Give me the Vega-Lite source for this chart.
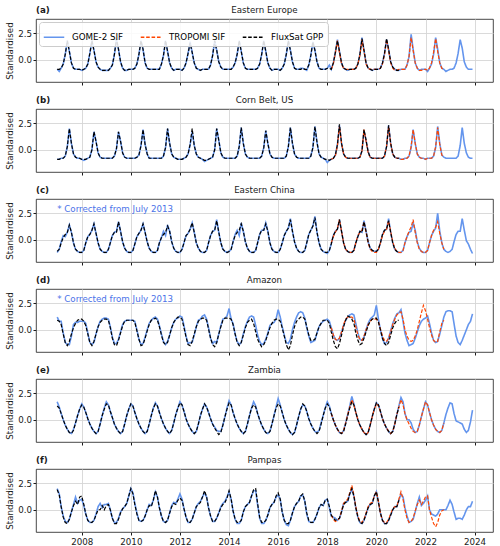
{
  "$schema": "https://vega.github.io/schema/vega-lite/v6.json",
  "padding": {"left": 5, "top": 5, "right": 5, "bottom": 2},
  "spacing": 9,
  "config": {
    "font": "DejaVu Sans",
    "view": {"stroke": "#1a1a1a", "strokeWidth": 0.8},
    "axis": {"domain": false, "gridColor": "#d6d6d6", "gridWidth": 0.9, "tickColor": "#1a1a1a", "tickSize": 3, "labelFontSize": 8.7, "titleFontSize": 8.7, "titleFontWeight": "normal", "labelColor": "#1a1a1a", "titleColor": "#1a1a1a", "labelPadding": 1.5, "titlePadding": 3, "labelFont": "DejaVu Sans", "titleFont": "DejaVu Sans"},
    "text": {"font": "DejaVu Sans", "fontSize": 8.7, "color": "#1a1a1a"}
  },
  "resolve": {"scale": {"color": "independent", "strokeDash": "independent"}},
  "datasets": {
    "A": [
      {"t":"2007-01","g":-0.9,"f":-0.9},{"t":"2007-02","g":-1.1,"f":-0.9},{"t":"2007-03","g":-0.8,"f":-0.8},{"t":"2007-04","g":-0.4,"f":-0.4},{"t":"2007-05","g":0.5,"f":0.5},{"t":"2007-06","g":1.8,"f":1.8},{"t":"2007-07","g":0.8,"f":0.8},{"t":"2007-08","g":-0.3,"f":-0.3},{"t":"2007-09","g":-0.8,"f":-0.8},{"t":"2007-10","g":-0.9,"f":-0.9},{"t":"2007-11","g":-0.9,"f":-0.9},{"t":"2007-12","g":-0.9,"f":-0.9},
      {"t":"2008-01","g":-1.0,"f":-1.0},{"t":"2008-02","g":-0.9,"f":-0.9},{"t":"2008-03","g":-0.8,"f":-0.8},{"t":"2008-04","g":-0.4,"f":-0.4},{"t":"2008-05","g":0.6,"f":0.6},{"t":"2008-06","g":1.8,"f":1.8},{"t":"2008-07","g":0.9,"f":0.9},{"t":"2008-08","g":-0.2,"f":-0.2},{"t":"2008-09","g":-0.7,"f":-0.7},{"t":"2008-10","g":-0.9,"f":-0.9},{"t":"2008-11","g":-1.0,"f":-1.0},{"t":"2008-12","g":-1.0,"f":-1.0},
      {"t":"2009-01","g":-1.0,"f":-1.0},{"t":"2009-02","g":-1.0,"f":-1.0},{"t":"2009-03","g":-0.8,"f":-0.8},{"t":"2009-04","g":-0.5,"f":-0.5},{"t":"2009-05","g":0.5,"f":0.5},{"t":"2009-06","g":1.9,"f":2.0},{"t":"2009-07","g":1.0,"f":1.0},{"t":"2009-08","g":-0.2,"f":-0.2},{"t":"2009-09","g":-0.8,"f":-0.8},{"t":"2009-10","g":-1.0,"f":-1.0},{"t":"2009-11","g":-1.0,"f":-1.0},{"t":"2009-12","g":-0.9,"f":-0.9},
      {"t":"2010-01","g":-0.9,"f":-0.9},{"t":"2010-02","g":-0.9,"f":-0.9},{"t":"2010-03","g":-0.8,"f":-0.8},{"t":"2010-04","g":-0.4,"f":-0.4},{"t":"2010-05","g":0.5,"f":0.5},{"t":"2010-06","g":1.8,"f":1.8},{"t":"2010-07","g":1.0,"f":1.0},{"t":"2010-08","g":-0.3,"f":-0.3},{"t":"2010-09","g":-0.8,"f":-0.8},{"t":"2010-10","g":-0.9,"f":-0.9},{"t":"2010-11","g":-0.9,"f":-0.9},{"t":"2010-12","g":-0.9,"f":-0.9},
      {"t":"2011-01","g":-0.9,"f":-0.9},{"t":"2011-02","g":-0.9,"f":-0.9},{"t":"2011-03","g":-0.9,"f":-0.9},{"t":"2011-04","g":-0.4,"f":-0.4},{"t":"2011-05","g":0.4,"f":0.4},{"t":"2011-06","g":1.8,"f":1.8},{"t":"2011-07","g":0.8,"f":0.8},{"t":"2011-08","g":-0.3,"f":-0.3},{"t":"2011-09","g":-0.8,"f":-0.8},{"t":"2011-10","g":-1.0,"f":-1.0},{"t":"2011-11","g":-0.9,"f":-0.9},{"t":"2011-12","g":-0.9,"f":-0.9},
      {"t":"2012-01","g":-0.9,"f":-0.9},{"t":"2012-02","g":-1.0,"f":-1.0},{"t":"2012-03","g":-0.8,"f":-0.8},{"t":"2012-04","g":-0.3,"f":-0.3},{"t":"2012-05","g":0.6,"f":0.6},{"t":"2012-06","g":1.7,"f":1.6},{"t":"2012-07","g":0.7,"f":0.7},{"t":"2012-08","g":-0.3,"f":-0.3},{"t":"2012-09","g":-0.8,"f":-0.8},{"t":"2012-10","g":-0.9,"f":-0.9},{"t":"2012-11","g":-1.0,"f":-1.0},{"t":"2012-12","g":-0.9,"f":-0.9},
      {"t":"2013-01","g":-0.9,"f":-0.9},{"t":"2013-02","g":-0.9,"f":-0.9},{"t":"2013-03","g":-0.9,"f":-0.9},{"t":"2013-04","g":-0.5,"f":-0.5},{"t":"2013-05","g":0.4,"f":0.4},{"t":"2013-06","g":1.8,"f":1.8},{"t":"2013-07","g":0.9,"f":0.9},{"t":"2013-08","g":-0.2,"f":-0.2},{"t":"2013-09","g":-0.7,"f":-0.7},{"t":"2013-10","g":-0.9,"f":-0.9},{"t":"2013-11","g":-0.9,"f":-0.9},{"t":"2013-12","g":-0.9,"f":-0.9},
      {"t":"2014-01","g":-0.9,"f":-0.9},{"t":"2014-02","g":-0.9,"f":-0.9},{"t":"2014-03","g":-0.7,"f":-0.7},{"t":"2014-04","g":-0.3,"f":-0.3},{"t":"2014-05","g":0.5,"f":0.5},{"t":"2014-06","g":1.8,"f":1.8},{"t":"2014-07","g":0.8,"f":0.8},{"t":"2014-08","g":-0.3,"f":-0.3},{"t":"2014-09","g":-0.8,"f":-0.8},{"t":"2014-10","g":-0.9,"f":-0.9},{"t":"2014-11","g":-0.9,"f":-0.9},{"t":"2014-12","g":-0.9,"f":-0.9},
      {"t":"2015-01","g":-0.9,"f":-0.9},{"t":"2015-02","g":-0.9,"f":-0.9},{"t":"2015-03","g":-0.8,"f":-0.8},{"t":"2015-04","g":-0.4,"f":-0.4},{"t":"2015-05","g":0.5,"f":0.5},{"t":"2015-06","g":1.8,"f":1.8},{"t":"2015-07","g":0.8,"f":0.8},{"t":"2015-08","g":-0.3,"f":-0.3},{"t":"2015-09","g":-0.8,"f":-0.8},{"t":"2015-10","g":-1.0,"f":-1.0},{"t":"2015-11","g":-0.9,"f":-0.9},{"t":"2015-12","g":-0.9,"f":-0.9},
      {"t":"2016-01","g":-0.9,"f":-0.9},{"t":"2016-02","g":-1.0,"f":-1.0},{"t":"2016-03","g":-0.8,"f":-0.8},{"t":"2016-04","g":-0.4,"f":-0.4},{"t":"2016-05","g":0.5,"f":0.5},{"t":"2016-06","g":1.8,"f":1.8},{"t":"2016-07","g":0.9,"f":0.9},{"t":"2016-08","g":-0.2,"f":-0.2},{"t":"2016-09","g":-0.8,"f":-0.8},{"t":"2016-10","g":-0.9,"f":-0.9},{"t":"2016-11","g":-0.9,"f":-0.9},{"t":"2016-12","g":-0.8,"f":-0.9},
      {"t":"2017-01","g":-0.8,"f":-0.8},{"t":"2017-02","g":-0.9,"f":-0.9},{"t":"2017-03","g":-1.0,"f":-0.9},{"t":"2017-04","g":-0.5,"f":-0.5},{"t":"2017-05","g":0.4,"f":0.4},{"t":"2017-06","g":1.7,"f":1.7},{"t":"2017-07","g":0.9,"f":0.9},{"t":"2017-08","g":-0.2,"f":-0.2},{"t":"2017-09","g":-0.8,"f":-0.8},{"t":"2017-10","g":-0.9,"f":-0.9},{"t":"2017-11","g":-0.9,"f":-0.9},{"t":"2017-12","g":-0.9,"f":-0.9},
      {"t":"2018-01","g":-0.8,"f":-0.8},{"t":"2018-02","g":-0.5,"f":-0.8},{"t":"2018-03","g":-0.9,"f":-0.9,"o":-0.9},{"t":"2018-04","g":-0.3,"f":-0.3,"o":-0.4},{"t":"2018-05","g":0.7,"f":0.7,"o":0.6},{"t":"2018-06","g":1.9,"f":1.8,"o":1.8},{"t":"2018-07","g":0.8,"f":0.8,"o":0.7},{"t":"2018-08","g":-0.3,"f":-0.3,"o":-0.4},{"t":"2018-09","g":-0.8,"f":-0.8,"o":-0.8},{"t":"2018-10","g":-0.9,"f":-0.9,"o":-0.9},{"t":"2018-11","g":-1.0,"f":-1.0,"o":-0.9},{"t":"2018-12","g":-0.9,"f":-0.9,"o":-0.9},
      {"t":"2019-01","g":-0.9,"f":-0.9,"o":-0.9},{"t":"2019-02","g":-0.9,"f":-0.9,"o":-0.9},{"t":"2019-03","g":-0.8,"f":-0.8,"o":-0.8},{"t":"2019-04","g":-0.4,"f":-0.4,"o":-0.4},{"t":"2019-05","g":0.5,"f":0.5,"o":0.4},{"t":"2019-06","g":2.1,"f":2.0,"o":1.9},{"t":"2019-07","g":0.9,"f":0.9,"o":0.8},{"t":"2019-08","g":-0.3,"f":-0.3,"o":-0.4},{"t":"2019-09","g":-0.8,"f":-0.8,"o":-0.8},{"t":"2019-10","g":-0.9,"f":-0.9,"o":-0.9},{"t":"2019-11","g":-1.0,"f":-1.0,"o":-0.9},{"t":"2019-12","g":-0.9,"f":-0.9,"o":-0.9},
      {"t":"2020-01","g":-0.9,"f":-0.9,"o":-0.9},{"t":"2020-02","g":-0.9,"f":-0.9,"o":-0.9},{"t":"2020-03","g":-0.8,"f":-0.8,"o":-0.8},{"t":"2020-04","g":-0.3,"f":-0.3,"o":-0.4},{"t":"2020-05","g":0.6,"f":0.6,"o":0.5},{"t":"2020-06","g":1.9,"f":2.0,"o":1.9},{"t":"2020-07","g":1.0,"f":1.0,"o":0.9},{"t":"2020-08","g":-0.2,"f":-0.2,"o":-0.3},{"t":"2020-09","g":-0.7,"f":-0.7,"o":-0.8},{"t":"2020-10","g":-0.9,"f":-0.9,"o":-1.0},{"t":"2020-11","g":-1.0,"f":-1.0,"o":-1.0},{"t":"2020-12","g":-1.0,"f":-1.0,"o":-0.9},
      {"t":"2021-01","g":-0.9,"o":-0.9},{"t":"2021-02","g":-0.9,"o":-0.9},{"t":"2021-03","g":-0.9,"o":-0.9},{"t":"2021-04","g":-0.5,"o":-0.5},{"t":"2021-05","g":0.3,"o":0.3},{"t":"2021-06","g":2.4,"o":2.1},{"t":"2021-07","g":1.0,"o":0.9},{"t":"2021-08","g":-0.3,"o":-0.3},{"t":"2021-09","g":-0.8,"o":-0.8},{"t":"2021-10","g":-1.0,"o":-1.0},{"t":"2021-11","g":-0.9,"o":-1.0},{"t":"2021-12","g":-0.9,"o":-0.9},
      {"t":"2022-01","g":-0.9,"o":-0.9},{"t":"2022-02","g":-1.1,"o":-1.0},{"t":"2022-03","g":-0.8,"o":-0.8},{"t":"2022-04","g":-0.4,"o":-0.3},{"t":"2022-05","g":0.5,"o":0.7},{"t":"2022-06","g":2.1,"o":2.0},{"t":"2022-07","g":1.0,"o":0.8},{"t":"2022-08","g":-0.3,"o":-0.3},{"t":"2022-09","g":-0.8,"o":-0.8},{"t":"2022-10","g":-0.9,"o":-0.9},{"t":"2022-11","g":-1.1},{"t":"2022-12","g":-1.0},
      {"t":"2023-01","g":-0.9},{"t":"2023-02","g":-0.9},{"t":"2023-03","g":-0.8},{"t":"2023-04","g":-0.3},{"t":"2023-05","g":0.6},{"t":"2023-06","g":1.9},{"t":"2023-07","g":1.1},{"t":"2023-08","g":-0.2},{"t":"2023-09","g":-0.7},{"t":"2023-10","g":-0.9},{"t":"2023-11","g":-0.9},{"t":"2023-12","g":-0.9}
    ],
    "B": [
      {"t":"2007-01","g":-0.9,"f":-0.9},{"t":"2007-02","g":-0.9,"f":-0.9},{"t":"2007-03","g":-0.8,"f":-0.8},{"t":"2007-04","g":-0.8,"f":-0.8},{"t":"2007-05","g":-0.6,"f":-0.6},{"t":"2007-06","g":0.3,"f":0.3},{"t":"2007-07","g":2.0,"f":2.0},{"t":"2007-08","g":0.6,"f":0.6},{"t":"2007-09","g":-0.4,"f":-0.4},{"t":"2007-10","g":-0.7,"f":-0.7},{"t":"2007-11","g":-0.8,"f":-0.8},{"t":"2007-12","g":-0.8,"f":-0.8},
      {"t":"2008-01","g":-0.9,"f":-0.9},{"t":"2008-02","g":-1.0,"f":-0.9},{"t":"2008-03","g":-0.9,"f":-0.9},{"t":"2008-04","g":-0.8,"f":-0.8},{"t":"2008-05","g":-0.7,"f":-0.7},{"t":"2008-06","g":0.0,"f":0.0},{"t":"2008-07","g":1.7,"f":1.7},{"t":"2008-08","g":0.8,"f":0.8},{"t":"2008-09","g":-0.3,"f":-0.3},{"t":"2008-10","g":-0.7,"f":-0.7},{"t":"2008-11","g":-0.8,"f":-0.8},{"t":"2008-12","g":-0.8,"f":-0.8},
      {"t":"2009-01","g":-0.8,"f":-0.8},{"t":"2009-02","g":-0.8,"f":-0.8},{"t":"2009-03","g":-0.8,"f":-0.8},{"t":"2009-04","g":-0.8,"f":-0.8},{"t":"2009-05","g":-0.6,"f":-0.6},{"t":"2009-06","g":0.1,"f":0.1},{"t":"2009-07","g":1.7,"f":1.7},{"t":"2009-08","g":0.8,"f":0.8},{"t":"2009-09","g":-0.3,"f":-0.3},{"t":"2009-10","g":-0.7,"f":-0.7},{"t":"2009-11","g":-0.8,"f":-0.8},{"t":"2009-12","g":-0.8,"f":-0.8},
      {"t":"2010-01","g":-0.8,"f":-0.8},{"t":"2010-02","g":-0.8,"f":-0.8},{"t":"2010-03","g":-0.8,"f":-0.8},{"t":"2010-04","g":-0.7,"f":-0.7},{"t":"2010-05","g":-0.5,"f":-0.5},{"t":"2010-06","g":0.4,"f":0.4},{"t":"2010-07","g":1.9,"f":1.9},{"t":"2010-08","g":0.5,"f":0.5},{"t":"2010-09","g":-0.4,"f":-0.4},{"t":"2010-10","g":-0.8,"f":-0.8},{"t":"2010-11","g":-0.8,"f":-0.8},{"t":"2010-12","g":-0.8,"f":-0.8},
      {"t":"2011-01","g":-0.8,"f":-0.8},{"t":"2011-02","g":-0.8,"f":-0.8},{"t":"2011-03","g":-0.8,"f":-0.8},{"t":"2011-04","g":-0.8,"f":-0.8},{"t":"2011-05","g":-0.6,"f":-0.6},{"t":"2011-06","g":0.2,"f":0.2},{"t":"2011-07","g":2.0,"f":2.0},{"t":"2011-08","g":0.6,"f":0.6},{"t":"2011-09","g":-0.4,"f":-0.4},{"t":"2011-10","g":-0.7,"f":-0.7},{"t":"2011-11","g":-0.8,"f":-0.8},{"t":"2011-12","g":-0.9,"f":-0.9},
      {"t":"2012-01","g":-0.9,"f":-0.9},{"t":"2012-02","g":-0.9,"f":-0.9},{"t":"2012-03","g":-0.8,"f":-0.8},{"t":"2012-04","g":-0.7,"f":-0.7},{"t":"2012-05","g":-0.4,"f":-0.4},{"t":"2012-06","g":0.5,"f":0.5},{"t":"2012-07","g":1.7,"f":2.0},{"t":"2012-08","g":0.4,"f":0.4},{"t":"2012-09","g":-0.4,"f":-0.4},{"t":"2012-10","g":-0.7,"f":-0.7},{"t":"2012-11","g":-0.8,"f":-0.8},{"t":"2012-12","g":-0.9,"f":-0.9},
      {"t":"2013-01","g":-1.1,"f":-1.0},{"t":"2013-02","g":-1.0,"f":-1.0},{"t":"2013-03","g":-0.9,"f":-0.9},{"t":"2013-04","g":-0.8,"f":-0.8},{"t":"2013-05","g":-0.7,"f":-0.7},{"t":"2013-06","g":0.0,"f":0.0},{"t":"2013-07","g":2.0,"f":2.0},{"t":"2013-08","g":0.9,"f":0.9},{"t":"2013-09","g":-0.3,"f":-0.3},{"t":"2013-10","g":-0.7,"f":-0.7},{"t":"2013-11","g":-0.8,"f":-0.8},{"t":"2013-12","g":-0.8,"f":-0.8},
      {"t":"2014-01","g":-0.8,"f":-0.8},{"t":"2014-02","g":-0.8,"f":-0.8},{"t":"2014-03","g":-0.8,"f":-0.8},{"t":"2014-04","g":-0.8,"f":-0.8},{"t":"2014-05","g":-0.6,"f":-0.6},{"t":"2014-06","g":0.3,"f":0.3},{"t":"2014-07","g":2.1,"f":2.1},{"t":"2014-08","g":0.6,"f":0.6},{"t":"2014-09","g":-0.4,"f":-0.4},{"t":"2014-10","g":-0.7,"f":-0.7},{"t":"2014-11","g":-0.8,"f":-0.8},{"t":"2014-12","g":-0.8,"f":-0.8},
      {"t":"2015-01","g":-0.8,"f":-0.8},{"t":"2015-02","g":-0.8,"f":-0.8},{"t":"2015-03","g":-0.8,"f":-0.8},{"t":"2015-04","g":-0.8,"f":-0.8},{"t":"2015-05","g":-0.6,"f":-0.6},{"t":"2015-06","g":0.2,"f":0.2},{"t":"2015-07","g":1.8,"f":1.8},{"t":"2015-08","g":0.6,"f":0.6},{"t":"2015-09","g":-0.4,"f":-0.4},{"t":"2015-10","g":-0.7,"f":-0.7},{"t":"2015-11","g":-0.8,"f":-0.8},{"t":"2015-12","g":-0.8,"f":-0.8},
      {"t":"2016-01","g":-0.8,"f":-0.8},{"t":"2016-02","g":-0.8,"f":-0.8},{"t":"2016-03","g":-0.8,"f":-0.8},{"t":"2016-04","g":-0.8,"f":-0.8},{"t":"2016-05","g":-0.6,"f":-0.6},{"t":"2016-06","g":0.3,"f":0.3},{"t":"2016-07","g":2.1,"f":2.1},{"t":"2016-08","g":0.6,"f":0.6},{"t":"2016-09","g":-0.4,"f":-0.4},{"t":"2016-10","g":-0.7,"f":-0.7},{"t":"2016-11","g":-0.8,"f":-0.8},{"t":"2016-12","g":-0.8,"f":-0.8},
      {"t":"2017-01","g":-0.8,"f":-0.8},{"t":"2017-02","g":-0.8,"f":-0.8},{"t":"2017-03","g":-0.8,"f":-0.8},{"t":"2017-04","g":-0.8,"f":-0.8},{"t":"2017-05","g":-0.6,"f":-0.6},{"t":"2017-06","g":0.2,"f":0.2},{"t":"2017-07","g":2.2,"f":2.2},{"t":"2017-08","g":0.7,"f":0.7},{"t":"2017-09","g":-0.4,"f":-0.4},{"t":"2017-10","g":-0.7,"f":-0.7},{"t":"2017-11","g":-0.8,"f":-0.8},{"t":"2017-12","g":-0.9,"f":-0.9},
      {"t":"2018-01","g":-1.2,"f":-0.9},{"t":"2018-02","g":-1.0,"f":-1.0},{"t":"2018-03","g":-0.9,"f":-0.9,"o":-0.9},{"t":"2018-04","g":-0.8,"f":-0.8,"o":-0.8},{"t":"2018-05","g":-0.5,"f":-0.5,"o":-0.6},{"t":"2018-06","g":0.5,"f":0.5,"o":0.4},{"t":"2018-07","g":2.3,"f":2.4,"o":2.2},{"t":"2018-08","g":0.6,"f":0.6,"o":0.6},{"t":"2018-09","g":-0.4,"f":-0.4,"o":-0.4},{"t":"2018-10","g":-0.7,"f":-0.7,"o":-0.7},{"t":"2018-11","g":-0.8,"f":-0.8,"o":-0.8},{"t":"2018-12","g":-0.8,"f":-0.8,"o":-0.8},
      {"t":"2019-01","g":-0.8,"f":-0.8,"o":-0.8},{"t":"2019-02","g":-0.8,"f":-0.8,"o":-0.8},{"t":"2019-03","g":-0.8,"f":-0.8,"o":-0.8},{"t":"2019-04","g":-0.8,"f":-0.8,"o":-0.8},{"t":"2019-05","g":-0.7,"f":-0.7,"o":-0.7},{"t":"2019-06","g":-0.1,"f":-0.1,"o":-0.1},{"t":"2019-07","g":1.8,"f":1.9,"o":1.9},{"t":"2019-08","g":0.9,"f":0.9,"o":0.8},{"t":"2019-09","g":-0.2,"f":-0.2,"o":-0.3},{"t":"2019-10","g":-0.7,"f":-0.7,"o":-0.7},{"t":"2019-11","g":-0.8,"f":-0.8,"o":-0.8},{"t":"2019-12","g":-0.8,"f":-0.8,"o":-0.8},
      {"t":"2020-01","g":-0.8,"f":-0.8,"o":-0.8},{"t":"2020-02","g":-0.8,"f":-0.8,"o":-0.8},{"t":"2020-03","g":-0.8,"f":-0.8,"o":-0.8},{"t":"2020-04","g":-0.8,"f":-0.8,"o":-0.8},{"t":"2020-05","g":-0.6,"f":-0.6,"o":-0.6},{"t":"2020-06","g":0.3,"f":0.3,"o":0.3},{"t":"2020-07","g":2.3,"f":2.3,"o":2.2},{"t":"2020-08","g":0.6,"f":0.6,"o":0.6},{"t":"2020-09","g":-0.4,"f":-0.4,"o":-0.4},{"t":"2020-10","g":-0.7,"f":-0.7,"o":-0.7},{"t":"2020-11","g":-0.8,"f":-0.8,"o":-0.8},{"t":"2020-12","g":-0.8,"f":-0.8,"o":-0.8},
      {"t":"2021-01","g":-0.9,"o":-0.9},{"t":"2021-02","g":-0.9,"o":-0.9},{"t":"2021-03","g":-0.8,"o":-0.8},{"t":"2021-04","g":-0.8,"o":-0.8},{"t":"2021-05","g":-0.6,"o":-0.6},{"t":"2021-06","g":0.2,"o":0.3},{"t":"2021-07","g":1.9,"o":1.9},{"t":"2021-08","g":0.6,"o":0.6},{"t":"2021-09","g":-0.4,"o":-0.4},{"t":"2021-10","g":-0.7,"o":-0.7},{"t":"2021-11","g":-0.8,"o":-0.8},{"t":"2021-12","g":-0.8,"o":-0.8},
      {"t":"2022-01","g":-0.9,"o":-0.9},{"t":"2022-02","g":-0.8,"o":-0.8},{"t":"2022-03","g":-0.8,"o":-0.8},{"t":"2022-04","g":-0.8,"o":-0.8},{"t":"2022-05","g":-0.6,"o":-0.6},{"t":"2022-06","g":0.2,"o":0.3},{"t":"2022-07","g":2.2,"o":2.1},{"t":"2022-08","g":0.6,"o":0.5},{"t":"2022-09","g":-0.5,"o":-0.5},{"t":"2022-10","g":-0.7,"o":-0.7},{"t":"2022-11","g":-0.8},{"t":"2022-12","g":-0.8},
      {"t":"2023-01","g":-0.8},{"t":"2023-02","g":-0.8},{"t":"2023-03","g":-0.8},{"t":"2023-04","g":-0.8},{"t":"2023-05","g":-0.6},{"t":"2023-06","g":0.4},{"t":"2023-07","g":2.1},{"t":"2023-08","g":0.6},{"t":"2023-09","g":-0.3},{"t":"2023-10","g":-0.7},{"t":"2023-11","g":-0.8},{"t":"2023-12","g":-0.8}
    ],
    "C": [
      {"t":"2007-01","g":-1.2,"f":-1.1},{"t":"2007-02","g":-0.9,"f":-0.9},{"t":"2007-03","g":-0.2,"f":-0.3},{"t":"2007-04","g":0.4,"f":0.2},{"t":"2007-05","g":0.3,"f":0.5},{"t":"2007-06","g":0.7,"f":0.7},{"t":"2007-07","g":1.4,"f":1.4},{"t":"2007-08","g":0.7,"f":0.7},{"t":"2007-09","g":-0.3,"f":-0.3},{"t":"2007-10","g":-0.9,"f":-0.9},{"t":"2007-11","g":-1.1,"f":-1.1},{"t":"2007-12","g":-1.2,"f":-1.2},
      {"t":"2008-01","g":-1.2,"f":-1.2},{"t":"2008-02","g":-1.0,"f":-1.0},{"t":"2008-03","g":-0.3,"f":-0.3},{"t":"2008-04","g":0.3,"f":0.3},{"t":"2008-05","g":0.5,"f":0.5},{"t":"2008-06","g":0.9,"f":0.9},{"t":"2008-07","g":1.5,"f":1.5},{"t":"2008-08","g":0.6,"f":0.6},{"t":"2008-09","g":-0.3,"f":-0.3},{"t":"2008-10","g":-0.9,"f":-0.9},{"t":"2008-11","g":-1.1,"f":-1.1},{"t":"2008-12","g":-1.2,"f":-1.2},
      {"t":"2009-01","g":-1.2,"f":-1.2},{"t":"2009-02","g":-0.9,"f":-0.9},{"t":"2009-03","g":-0.3,"f":-0.3},{"t":"2009-04","g":0.4,"f":0.4},{"t":"2009-05","g":0.7,"f":0.7},{"t":"2009-06","g":0.8,"f":0.7},{"t":"2009-07","g":1.7,"f":1.7},{"t":"2009-08","g":0.8,"f":0.8},{"t":"2009-09","g":-0.2,"f":-0.2},{"t":"2009-10","g":-0.8,"f":-0.8},{"t":"2009-11","g":-1.1,"f":-1.1},{"t":"2009-12","g":-1.2,"f":-1.2},
      {"t":"2010-01","g":-1.2,"f":-1.2},{"t":"2010-02","g":-1.0,"f":-1.0},{"t":"2010-03","g":-0.4,"f":-0.4},{"t":"2010-04","g":0.3,"f":0.3},{"t":"2010-05","g":0.6,"f":0.6},{"t":"2010-06","g":0.9,"f":0.9},{"t":"2010-07","g":1.5,"f":1.5},{"t":"2010-08","g":0.7,"f":0.7},{"t":"2010-09","g":-0.2,"f":-0.2},{"t":"2010-10","g":-0.8,"f":-0.8},{"t":"2010-11","g":-1.1,"f":-1.1},{"t":"2010-12","g":-1.2,"f":-1.2},
      {"t":"2011-01","g":-1.2,"f":-1.2},{"t":"2011-02","g":-1.0,"f":-1.0},{"t":"2011-03","g":-0.3,"f":-0.3},{"t":"2011-04","g":0.2,"f":0.2},{"t":"2011-05","g":0.8,"f":0.5},{"t":"2011-06","g":0.4,"f":0.7},{"t":"2011-07","g":1.4,"f":1.3},{"t":"2011-08","g":0.8,"f":0.8},{"t":"2011-09","g":-0.2,"f":-0.2},{"t":"2011-10","g":-0.8,"f":-0.8},{"t":"2011-11","g":-1.1,"f":-1.1},{"t":"2011-12","g":-1.2,"f":-1.2},
      {"t":"2012-01","g":-1.2,"f":-1.2},{"t":"2012-02","g":-0.9,"f":-0.9},{"t":"2012-03","g":-0.3,"f":-0.3},{"t":"2012-04","g":0.4,"f":0.4},{"t":"2012-05","g":0.6,"f":0.6},{"t":"2012-06","g":1.0,"f":1.0},{"t":"2012-07","g":1.6,"f":1.6},{"t":"2012-08","g":0.7,"f":0.7},{"t":"2012-09","g":-0.3,"f":-0.3},{"t":"2012-10","g":-0.8,"f":-0.8},{"t":"2012-11","g":-1.1,"f":-1.1},{"t":"2012-12","g":-1.2,"f":-1.2},
      {"t":"2013-01","g":-1.2,"f":-1.2},{"t":"2013-02","g":-1.0,"f":-1.0},{"t":"2013-03","g":-0.3,"f":-0.3},{"t":"2013-04","g":0.4,"f":0.4},{"t":"2013-05","g":0.8,"f":0.8},{"t":"2013-06","g":0.9,"f":0.9},{"t":"2013-07","g":1.9,"f":1.8},{"t":"2013-08","g":0.7,"f":0.7},{"t":"2013-09","g":-0.3,"f":-0.3},{"t":"2013-10","g":-0.9,"f":-0.9},{"t":"2013-11","g":-1.1,"f":-1.1},{"t":"2013-12","g":-1.2,"f":-1.2},
      {"t":"2014-01","g":-1.1,"f":-1.1},{"t":"2014-02","g":-0.9,"f":-0.9},{"t":"2014-03","g":-0.2,"f":-0.2},{"t":"2014-04","g":0.5,"f":0.4},{"t":"2014-05","g":0.9,"f":0.7},{"t":"2014-06","g":0.4,"f":0.9},{"t":"2014-07","g":1.6,"f":1.5},{"t":"2014-08","g":0.8,"f":0.8},{"t":"2014-09","g":-0.2,"f":-0.2},{"t":"2014-10","g":-0.8,"f":-0.8},{"t":"2014-11","g":-1.1,"f":-1.1},{"t":"2014-12","g":-1.2,"f":-1.2},
      {"t":"2015-01","g":-1.2,"f":-1.2},{"t":"2015-02","g":-1.0,"f":-1.0},{"t":"2015-03","g":-0.3,"f":-0.3},{"t":"2015-04","g":0.5,"f":0.5},{"t":"2015-05","g":0.9,"f":0.9},{"t":"2015-06","g":0.9,"f":0.9},{"t":"2015-07","g":1.6,"f":1.5},{"t":"2015-08","g":0.8,"f":0.8},{"t":"2015-09","g":-0.3,"f":-0.3},{"t":"2015-10","g":-0.9,"f":-0.9},{"t":"2015-11","g":-1.1,"f":-1.1},{"t":"2015-12","g":-1.2,"f":-1.2},
      {"t":"2016-01","g":-1.2,"f":-1.2},{"t":"2016-02","g":-0.9,"f":-0.9},{"t":"2016-03","g":-0.3,"f":-0.3},{"t":"2016-04","g":0.4,"f":0.4},{"t":"2016-05","g":0.8,"f":0.8},{"t":"2016-06","g":1.1,"f":1.1},{"t":"2016-07","g":2.0,"f":1.9},{"t":"2016-08","g":0.8,"f":0.8},{"t":"2016-09","g":-0.2,"f":-0.2},{"t":"2016-10","g":-0.8,"f":-0.8},{"t":"2016-11","g":-1.1,"f":-1.1},{"t":"2016-12","g":-1.2,"f":-1.2},
      {"t":"2017-01","g":-1.2,"f":-1.2},{"t":"2017-02","g":-1.0,"f":-1.0},{"t":"2017-03","g":-0.3,"f":-0.3},{"t":"2017-04","g":0.5,"f":0.5},{"t":"2017-05","g":0.9,"f":0.9},{"t":"2017-06","g":1.3,"f":1.3},{"t":"2017-07","g":2.2,"f":2.1},{"t":"2017-08","g":0.7,"f":0.7},{"t":"2017-09","g":-0.3,"f":-0.3},{"t":"2017-10","g":-0.9,"f":-0.9},{"t":"2017-11","g":-1.1,"f":-1.1},{"t":"2017-12","g":-1.2,"f":-1.2},
      {"t":"2018-01","g":-1.3,"f":-1.2},{"t":"2018-02","g":-1.0,"f":-1.0},{"t":"2018-03","g":-0.4,"f":-0.4,"o":-0.3},{"t":"2018-04","g":0.4,"f":0.4,"o":0.3},{"t":"2018-05","g":0.8,"f":0.8,"o":0.7},{"t":"2018-06","g":1.0,"f":1.0,"o":1.1},{"t":"2018-07","g":1.9,"f":1.9,"o":1.9},{"t":"2018-08","g":0.8,"f":0.8,"o":0.8},{"t":"2018-09","g":-0.3,"f":-0.3,"o":-0.3},{"t":"2018-10","g":-0.9,"f":-0.9,"o":-0.9},{"t":"2018-11","g":-1.1,"f":-1.1,"o":-1.1},{"t":"2018-12","g":-1.2,"f":-1.2,"o":-1.2},
      {"t":"2019-01","g":-1.2,"f":-1.2,"o":-1.2},{"t":"2019-02","g":-1.0,"f":-1.0,"o":-1.0},{"t":"2019-03","g":-0.3,"f":-0.3,"o":-0.3},{"t":"2019-04","g":0.3,"f":0.3,"o":0.4},{"t":"2019-05","g":0.8,"f":0.8,"o":0.7},{"t":"2019-06","g":0.7,"f":0.7,"o":0.9},{"t":"2019-07","g":1.8,"f":1.7,"o":1.7},{"t":"2019-08","g":0.8,"f":0.8,"o":0.7},{"t":"2019-09","g":-0.2,"f":-0.2,"o":-0.3},{"t":"2019-10","g":-0.8,"f":-0.8,"o":-0.9},{"t":"2019-11","g":-1.0,"f":-1.0,"o":-1.1},{"t":"2019-12","g":-1.1,"f":-1.1,"o":-1.2},
      {"t":"2020-01","g":-1.1,"f":-1.1,"o":-1.2},{"t":"2020-02","g":-0.9,"f":-0.9,"o":-0.9},{"t":"2020-03","g":-0.3,"f":-0.3,"o":-0.3},{"t":"2020-04","g":0.5,"f":0.5,"o":0.4},{"t":"2020-05","g":0.9,"f":0.9,"o":0.8},{"t":"2020-06","g":1.0,"f":1.0,"o":1.0},{"t":"2020-07","g":2.0,"f":1.8,"o":1.8},{"t":"2020-08","g":0.7,"f":0.7,"o":0.8},{"t":"2020-09","g":-0.3,"f":-0.3,"o":-0.2},{"t":"2020-10","g":-0.9,"f":-0.9,"o":-0.8},{"t":"2020-11","g":-1.1,"f":-1.1,"o":-1.1},{"t":"2020-12","g":-1.2,"f":-1.2,"o":-1.2},
      {"t":"2021-01","g":-1.2,"o":-1.2},{"t":"2021-02","g":-1.0,"o":-1.0},{"t":"2021-03","g":-0.3,"o":-0.3},{"t":"2021-04","g":0.3,"o":0.3},{"t":"2021-05","g":0.7,"o":0.8},{"t":"2021-06","g":0.8,"o":1.2},{"t":"2021-07","g":1.6,"o":1.9},{"t":"2021-08","g":0.9,"o":0.7},{"t":"2021-09","g":-0.2,"o":-0.3},{"t":"2021-10","g":-0.8,"o":-0.9},{"t":"2021-11","g":-1.1,"o":-1.1},{"t":"2021-12","g":-1.2,"o":-1.2},
      {"t":"2022-01","g":-1.2,"o":-1.2},{"t":"2022-02","g":-1.0,"o":-1.0},{"t":"2022-03","g":-0.3,"o":-0.3},{"t":"2022-04","g":0.4,"o":0.4},{"t":"2022-05","g":0.8,"o":0.9},{"t":"2022-06","g":1.1,"o":1.2},{"t":"2022-07","g":2.5,"o":1.7},{"t":"2022-08","g":0.8,"o":0.6},{"t":"2022-09","g":-0.3,"o":-0.3},{"t":"2022-10","g":-0.9,"o":-0.9},{"t":"2022-11","g":-1.1},{"t":"2022-12","g":-1.2},
      {"t":"2023-01","g":-1.1},{"t":"2023-02","g":-0.9},{"t":"2023-03","g":-0.2},{"t":"2023-04","g":0.5},{"t":"2023-05","g":0.8},{"t":"2023-06","g":0.8},{"t":"2023-07","g":2.0},{"t":"2023-08","g":0.9},{"t":"2023-09","g":-0.1},{"t":"2023-10","g":-0.4},{"t":"2023-11","g":-0.9},{"t":"2023-12","g":-1.3}
    ],
    "D": [
      {"t":"2007-01","g":1.2,"f":0.9},{"t":"2007-02","g":0.8,"f":0.8},{"t":"2007-03","g":0.8,"f":0.5},{"t":"2007-04","g":-0.3,"f":-0.4},{"t":"2007-05","g":-1.2,"f":-1.2},{"t":"2007-06","g":-1.4,"f":-1.5},{"t":"2007-07","g":-1.4,"f":-1.1},{"t":"2007-08","g":-0.6,"f":-0.4},{"t":"2007-09","g":0.5,"f":0.2},{"t":"2007-10","g":0.7,"f":0.6},{"t":"2007-11","g":0.7,"f":0.9},{"t":"2007-12","g":0.8,"f":1.0},
      {"t":"2008-01","g":0.8,"f":1.0},{"t":"2008-02","g":0.8,"f":0.8},{"t":"2008-03","g":0.6,"f":0.4},{"t":"2008-04","g":-0.3,"f":-0.4},{"t":"2008-05","g":-1.2,"f":-1.2},{"t":"2008-06","g":-1.4,"f":-1.5},{"t":"2008-07","g":-1.2,"f":-1.1},{"t":"2008-08","g":-0.4,"f":-0.4},{"t":"2008-09","g":0.3,"f":0.3},{"t":"2008-10","g":0.8,"f":0.7},{"t":"2008-11","g":1.0,"f":0.9},{"t":"2008-12","g":1.1,"f":1.0},
      {"t":"2009-01","g":1.1,"f":1.0},{"t":"2009-02","g":1.0,"f":0.9},{"t":"2009-03","g":0.3,"f":0.2},{"t":"2009-04","g":-0.7,"f":-0.8},{"t":"2009-05","g":-1.3,"f":-1.4},{"t":"2009-06","g":-1.3,"f":-1.5},{"t":"2009-07","g":-0.9,"f":-1.0},{"t":"2009-08","g":-0.2,"f":-0.3},{"t":"2009-09","g":0.5,"f":0.4},{"t":"2009-10","g":0.8,"f":0.8},{"t":"2009-11","g":0.9,"f":0.9},{"t":"2009-12","g":0.9,"f":0.9},
      {"t":"2010-01","g":0.9,"f":0.9},{"t":"2010-02","g":0.9,"f":0.9},{"t":"2010-03","g":0.8,"f":0.7},{"t":"2010-04","g":0.0,"f":-0.1},{"t":"2010-05","g":-0.9,"f":-0.9},{"t":"2010-06","g":-1.4,"f":-1.5},{"t":"2010-07","g":-1.3,"f":-1.4},{"t":"2010-08","g":-0.7,"f":-0.8},{"t":"2010-09","g":0.0,"f":-0.1},{"t":"2010-10","g":0.6,"f":0.5},{"t":"2010-11","g":0.9,"f":0.9},{"t":"2010-12","g":1.1,"f":1.0},
      {"t":"2011-01","g":1.2,"f":1.1},{"t":"2011-02","g":1.0,"f":0.9},{"t":"2011-03","g":0.4,"f":0.3},{"t":"2011-04","g":-0.4,"f":-0.5},{"t":"2011-05","g":-1.1,"f":-1.2},{"t":"2011-06","g":-1.4,"f":-1.4},{"t":"2011-07","g":-1.1,"f":-1.2},{"t":"2011-08","g":-0.5,"f":-0.5},{"t":"2011-09","g":0.2,"f":0.2},{"t":"2011-10","g":0.7,"f":0.7},{"t":"2011-11","g":1.0,"f":1.0},{"t":"2011-12","g":1.1,"f":1.2},
      {"t":"2012-01","g":1.3,"f":1.2},{"t":"2012-02","g":1.2,"f":1.0},{"t":"2012-03","g":0.4,"f":0.2},{"t":"2012-04","g":-0.6,"f":-0.7},{"t":"2012-05","g":-1.3,"f":-1.4},{"t":"2012-06","g":-1.2,"f":-1.5},{"t":"2012-07","g":-1.2,"f":-1.1},{"t":"2012-08","g":-0.5,"f":-0.4},{"t":"2012-09","g":0.3,"f":0.3},{"t":"2012-10","g":0.9,"f":0.8},{"t":"2012-11","g":1.0,"f":1.0},{"t":"2012-12","g":1.3,"f":1.1},
      {"t":"2013-01","g":1.4,"f":1.1},{"t":"2013-02","g":1.0,"f":0.9},{"t":"2013-03","g":0.2,"f":0.1},{"t":"2013-04","g":-0.8,"f":-0.8},{"t":"2013-05","g":-1.3,"f":-1.4},{"t":"2013-06","g":-1.1,"f":-1.6},{"t":"2013-07","g":-1.2,"f":-1.2},{"t":"2013-08","g":-0.4,"f":-0.4},{"t":"2013-09","g":0.4,"f":0.3},{"t":"2013-10","g":1.0,"f":0.9},{"t":"2013-11","g":1.1,"f":1.1},{"t":"2013-12","g":1.3,"f":1.1},
      {"t":"2014-01","g":2.0,"f":1.1},{"t":"2014-02","g":1.0,"f":1.0},{"t":"2014-03","g":0.6,"f":0.5},{"t":"2014-04","g":-0.4,"f":-0.4},{"t":"2014-05","g":-1.1,"f":-1.2},{"t":"2014-06","g":-1.4,"f":-1.5},{"t":"2014-07","g":-1.2,"f":-1.2},{"t":"2014-08","g":-0.4,"f":-0.5},{"t":"2014-09","g":0.3,"f":0.2},{"t":"2014-10","g":0.8,"f":0.7},{"t":"2014-11","g":1.2,"f":0.9},{"t":"2014-12","g":1.3,"f":1.0},
      {"t":"2015-01","g":1.2,"f":0.6},{"t":"2015-02","g":0.4,"f":-0.2},{"t":"2015-03","g":-0.5,"f":-0.9},{"t":"2015-04","g":-1.1,"f":-1.3},{"t":"2015-05","g":-1.4,"f":-1.6},{"t":"2015-06","g":-1.3,"f":-1.4},{"t":"2015-07","g":-0.9,"f":-1.0},{"t":"2015-08","g":-0.3,"f":-0.4},{"t":"2015-09","g":0.4,"f":0.2},{"t":"2015-10","g":0.6,"f":0.6},{"t":"2015-11","g":0.7,"f":0.9},{"t":"2015-12","g":1.0,"f":1.0},
      {"t":"2016-01","g":1.9,"f":1.0},{"t":"2016-02","g":1.2,"f":0.8},{"t":"2016-03","g":0.3,"f":0.2},{"t":"2016-04","g":-0.5,"f":-0.6},{"t":"2016-05","g":-1.2,"f":-1.4},{"t":"2016-06","g":-1.3,"f":-1.9},{"t":"2016-07","g":-0.9,"f":-1.5},{"t":"2016-08","g":0.0,"f":-0.5},{"t":"2016-09","g":0.7,"f":0.3},{"t":"2016-10","g":1.2,"f":0.8},{"t":"2016-11","g":1.6,"f":1.0},{"t":"2016-12","g":1.7,"f":1.2},
      {"t":"2017-01","g":1.6,"f":1.2},{"t":"2017-02","g":1.1,"f":1.0},{"t":"2017-03","g":0.2,"f":0.3},{"t":"2017-04","g":-0.6,"f":-0.5},{"t":"2017-05","g":-1.2,"f":-1.0},{"t":"2017-06","g":-1.1,"f":-1.0},{"t":"2017-07","g":-1.0,"f":-0.9},{"t":"2017-08","g":-0.3,"f":-0.3},{"t":"2017-09","g":0.3,"f":0.3},{"t":"2017-10","g":0.6,"f":0.6},{"t":"2017-11","g":0.8,"f":0.9},{"t":"2017-12","g":0.9,"f":0.9},
      {"t":"2018-01","g":1.0,"f":0.9},{"t":"2018-02","g":0.8,"f":0.6},{"t":"2018-03","g":0.2,"f":-0.2,"o":0.2},{"t":"2018-04","g":-0.5,"f":-1.0,"o":-0.5},{"t":"2018-05","g":-0.9,"f":-1.6,"o":-0.9},{"t":"2018-06","g":-1.0,"f":-1.8,"o":-1.0},{"t":"2018-07","g":-0.8,"f":-1.3,"o":-0.8},{"t":"2018-08","g":-0.2,"f":-0.5,"o":-0.2},{"t":"2018-09","g":0.4,"f":0.3,"o":0.5},{"t":"2018-10","g":0.9,"f":0.9,"o":1.0},{"t":"2018-11","g":1.2,"f":1.3,"o":1.2},{"t":"2018-12","g":1.4,"f":1.2,"o":1.2},
      {"t":"2019-01","g":1.5,"f":1.0,"o":1.2},{"t":"2019-02","g":1.4,"f":0.6,"o":1.0},{"t":"2019-03","g":0.6,"f":-0.3,"o":0.3},{"t":"2019-04","g":-0.3,"f":-1.0,"o":-0.5},{"t":"2019-05","g":-0.9,"f":-1.4,"o":-0.9},{"t":"2019-06","g":-1.0,"f":-1.3,"o":-1.0},{"t":"2019-07","g":-0.7,"f":-0.8,"o":-0.6},{"t":"2019-08","g":0.0,"f":-0.2,"o":0.0},{"t":"2019-09","g":0.6,"f":0.4,"o":0.5},{"t":"2019-10","g":1.0,"f":0.8,"o":0.8},{"t":"2019-11","g":1.2,"f":1.0,"o":1.0},{"t":"2019-12","g":1.4,"f":1.1,"o":1.0},
      {"t":"2020-01","g":2.3,"f":1.1,"o":1.0},{"t":"2020-02","g":1.0,"f":0.7,"o":0.8},{"t":"2020-03","g":0.0,"f":0.0,"o":0.1},{"t":"2020-04","g":-0.8,"f":-0.8,"o":-0.6},{"t":"2020-05","g":-1.3,"f":-1.3,"o":-1.0},{"t":"2020-06","g":-1.2,"f":-1.5,"o":-1.1},{"t":"2020-07","g":-0.8,"f":-1.2,"o":-0.8},{"t":"2020-08","g":-0.1,"f":-0.5,"o":-0.2},{"t":"2020-09","g":0.6,"f":0.2,"o":0.5},{"t":"2020-10","g":1.1,"f":0.6,"o":1.0},{"t":"2020-11","g":1.5,"f":0.9,"o":1.4},{"t":"2020-12","g":1.6,"f":0.9,"o":1.6},
      {"t":"2021-01","g":1.9,"o":1.7},{"t":"2021-02","g":0.8,"o":1.0},{"t":"2021-03","g":-0.3,"o":0.0},{"t":"2021-04","g":-1.0,"o":-0.6},{"t":"2021-05","g":-1.5,"o":-1.0},{"t":"2021-06","g":-1.4,"o":-1.1},{"t":"2021-07","g":-1.3,"o":-1.0},{"t":"2021-08","g":-0.8,"o":-0.6},{"t":"2021-09","g":-0.2,"o":0.0},{"t":"2021-10","g":0.4,"o":0.8},{"t":"2021-11","g":0.8,"o":1.6},{"t":"2021-12","g":1.0,"o":2.3},
      {"t":"2022-01","g":1.1,"o":1.8},{"t":"2022-02","g":1.3,"o":1.0},{"t":"2022-03","g":0.6,"o":0.2},{"t":"2022-04","g":-0.3,"o":-0.5},{"t":"2022-05","g":-1.0,"o":-1.0},{"t":"2022-06","g":-1.2,"o":-1.2},{"t":"2022-07","g":-1.1,"o":-1.1},{"t":"2022-08","g":-0.4,"o":-0.2},{"t":"2022-09","g":0.4,"o":0.6},{"t":"2022-10","g":1.2,"o":0.9},{"t":"2022-11","g":1.7},{"t":"2022-12","g":1.8},
      {"t":"2023-01","g":1.8},{"t":"2023-02","g":1.7},{"t":"2023-03","g":0.6},{"t":"2023-04","g":-0.6},{"t":"2023-05","g":-1.2},{"t":"2023-06","g":-1.4},{"t":"2023-07","g":-1.0},{"t":"2023-08","g":-0.5},{"t":"2023-09","g":0.0},{"t":"2023-10","g":0.5},{"t":"2023-11","g":0.8},{"t":"2023-12","g":1.5}
    ],
    "E": [
      {"t":"2007-01","g":1.7,"f":1.3},{"t":"2007-02","g":1.2,"f":1.1},{"t":"2007-03","g":0.6,"f":0.6},{"t":"2007-04","g":0.0,"f":0.0},{"t":"2007-05","g":-0.5,"f":-0.5},{"t":"2007-06","g":-0.9,"f":-0.9},{"t":"2007-07","g":-1.2,"f":-1.2},{"t":"2007-08","g":-1.3,"f":-1.3},{"t":"2007-09","g":-0.9,"f":-1.0},{"t":"2007-10","g":-0.3,"f":-0.3},{"t":"2007-11","g":0.4,"f":0.4},{"t":"2007-12","g":1.0,"f":1.0},
      {"t":"2008-01","g":1.5,"f":1.4},{"t":"2008-02","g":1.2,"f":1.2},{"t":"2008-03","g":0.7,"f":0.7},{"t":"2008-04","g":0.1,"f":0.1},{"t":"2008-05","g":-0.4,"f":-0.4},{"t":"2008-06","g":-0.8,"f":-0.8},{"t":"2008-07","g":-1.1,"f":-1.1},{"t":"2008-08","g":-1.3,"f":-1.3},{"t":"2008-09","g":-1.1,"f":-1.1},{"t":"2008-10","g":-0.4,"f":-0.4},{"t":"2008-11","g":0.4,"f":0.4},{"t":"2008-12","g":1.1,"f":1.0},
      {"t":"2009-01","g":1.7,"f":1.5},{"t":"2009-02","g":1.4,"f":1.4},{"t":"2009-03","g":0.8,"f":0.8},{"t":"2009-04","g":0.2,"f":0.2},{"t":"2009-05","g":-0.4,"f":-0.4},{"t":"2009-06","g":-0.8,"f":-0.8},{"t":"2009-07","g":-1.1,"f":-1.1},{"t":"2009-08","g":-1.3,"f":-1.3},{"t":"2009-09","g":-1.1,"f":-1.1},{"t":"2009-10","g":-0.4,"f":-0.4},{"t":"2009-11","g":0.4,"f":0.4},{"t":"2009-12","g":1.0,"f":1.0},
      {"t":"2010-01","g":1.5,"f":1.5},{"t":"2010-02","g":1.3,"f":1.3},{"t":"2010-03","g":0.7,"f":0.7},{"t":"2010-04","g":0.1,"f":0.1},{"t":"2010-05","g":-0.4,"f":-0.4},{"t":"2010-06","g":-0.8,"f":-0.8},{"t":"2010-07","g":-1.1,"f":-1.1},{"t":"2010-08","g":-1.3,"f":-1.3},{"t":"2010-09","g":-1.1,"f":-1.1},{"t":"2010-10","g":-0.4,"f":-0.4},{"t":"2010-11","g":0.4,"f":0.4},{"t":"2010-12","g":1.1,"f":1.1},
      {"t":"2011-01","g":1.6,"f":1.5},{"t":"2011-02","g":1.3,"f":1.3},{"t":"2011-03","g":0.7,"f":0.7},{"t":"2011-04","g":0.1,"f":0.1},{"t":"2011-05","g":-0.4,"f":-0.4},{"t":"2011-06","g":-0.8,"f":-0.8},{"t":"2011-07","g":-1.1,"f":-1.1},{"t":"2011-08","g":-1.3,"f":-1.3},{"t":"2011-09","g":-1.0,"f":-1.0},{"t":"2011-10","g":-0.3,"f":-0.3},{"t":"2011-11","g":0.5,"f":0.5},{"t":"2011-12","g":1.1,"f":1.1},
      {"t":"2012-01","g":1.7,"f":1.6},{"t":"2012-02","g":1.4,"f":1.4},{"t":"2012-03","g":0.8,"f":0.8},{"t":"2012-04","g":0.1,"f":0.1},{"t":"2012-05","g":-0.4,"f":-0.4},{"t":"2012-06","g":-0.8,"f":-0.8},{"t":"2012-07","g":-1.1,"f":-1.1},{"t":"2012-08","g":-1.3,"f":-1.3},{"t":"2012-09","g":-1.1,"f":-1.1},{"t":"2012-10","g":-0.4,"f":-0.4},{"t":"2012-11","g":0.4,"f":0.4},{"t":"2012-12","g":1.0,"f":1.0},
      {"t":"2013-01","g":1.5,"f":1.5},{"t":"2013-02","g":1.2,"f":1.2},{"t":"2013-03","g":0.7,"f":0.7},{"t":"2013-04","g":0.1,"f":0.1},{"t":"2013-05","g":-0.4,"f":-0.4},{"t":"2013-06","g":-0.7,"f":-0.8},{"t":"2013-07","g":-1.0,"f":-1.1},{"t":"2013-08","g":-1.1,"f":-1.4},{"t":"2013-09","g":-1.1,"f":-1.2},{"t":"2013-10","g":-0.5,"f":-0.5},{"t":"2013-11","g":0.3,"f":0.3},{"t":"2013-12","g":1.1,"f":1.0},
      {"t":"2014-01","g":1.8,"f":1.6},{"t":"2014-02","g":1.4,"f":1.4},{"t":"2014-03","g":0.7,"f":0.7},{"t":"2014-04","g":0.1,"f":0.1},{"t":"2014-05","g":-0.4,"f":-0.4},{"t":"2014-06","g":-0.8,"f":-0.8},{"t":"2014-07","g":-1.1,"f":-1.1},{"t":"2014-08","g":-1.3,"f":-1.3},{"t":"2014-09","g":-1.1,"f":-1.1},{"t":"2014-10","g":-0.4,"f":-0.4},{"t":"2014-11","g":0.4,"f":0.4},{"t":"2014-12","g":1.1,"f":1.1},
      {"t":"2015-01","g":1.7,"f":1.4},{"t":"2015-02","g":1.3,"f":1.2},{"t":"2015-03","g":0.6,"f":0.6},{"t":"2015-04","g":0.0,"f":0.0},{"t":"2015-05","g":-0.5,"f":-0.5},{"t":"2015-06","g":-0.9,"f":-0.9},{"t":"2015-07","g":-1.2,"f":-1.2},{"t":"2015-08","g":-1.3,"f":-1.3},{"t":"2015-09","g":-1.1,"f":-1.1},{"t":"2015-10","g":-0.4,"f":-0.4},{"t":"2015-11","g":0.4,"f":0.4},{"t":"2015-12","g":1.2,"f":1.1},
      {"t":"2016-01","g":2.0,"f":1.5},{"t":"2016-02","g":1.4,"f":1.3},{"t":"2016-03","g":0.7,"f":0.7},{"t":"2016-04","g":0.0,"f":0.0},{"t":"2016-05","g":-0.5,"f":-0.5},{"t":"2016-06","g":-0.9,"f":-0.9},{"t":"2016-07","g":-1.2,"f":-1.2},{"t":"2016-08","g":-1.4,"f":-1.4},{"t":"2016-09","g":-1.2,"f":-1.2},{"t":"2016-10","g":-0.5,"f":-0.5},{"t":"2016-11","g":0.3,"f":0.3},{"t":"2016-12","g":1.0,"f":1.0},
      {"t":"2017-01","g":1.4,"f":1.5},{"t":"2017-02","g":1.3,"f":1.3},{"t":"2017-03","g":0.8,"f":0.8},{"t":"2017-04","g":0.1,"f":0.1},{"t":"2017-05","g":-0.4,"f":-0.4},{"t":"2017-06","g":-0.8,"f":-0.8},{"t":"2017-07","g":-1.1,"f":-1.1},{"t":"2017-08","g":-1.2,"f":-1.3},{"t":"2017-09","g":-1.0,"f":-1.1},{"t":"2017-10","g":-0.3,"f":-0.4},{"t":"2017-11","g":0.4,"f":0.4},{"t":"2017-12","g":1.1,"f":1.1},
      {"t":"2018-01","g":1.7,"f":1.5},{"t":"2018-02","g":1.3,"f":1.2},{"t":"2018-03","g":0.6,"f":0.6,"o":0.6},{"t":"2018-04","g":0.0,"f":0.0,"o":0.0},{"t":"2018-05","g":-0.5,"f":-0.5,"o":-0.5},{"t":"2018-06","g":-0.9,"f":-0.9,"o":-0.9},{"t":"2018-07","g":-1.2,"f":-1.2,"o":-1.2},{"t":"2018-08","g":-1.3,"f":-1.3,"o":-1.3},{"t":"2018-09","g":-1.0,"f":-1.1,"o":-1.0},{"t":"2018-10","g":-0.3,"f":-0.4,"o":-0.3},{"t":"2018-11","g":0.5,"f":0.4,"o":0.5},{"t":"2018-12","g":1.3,"f":1.1,"o":1.2},
      {"t":"2019-01","g":2.2,"f":1.7,"o":1.9},{"t":"2019-02","g":1.5,"f":1.4,"o":1.4},{"t":"2019-03","g":0.7,"f":0.7,"o":0.7},{"t":"2019-04","g":0.0,"f":0.0,"o":0.0},{"t":"2019-05","g":-0.5,"f":-0.5,"o":-0.5},{"t":"2019-06","g":-0.9,"f":-0.9,"o":-0.9},{"t":"2019-07","g":-1.2,"f":-1.2,"o":-1.2},{"t":"2019-08","g":-1.4,"f":-1.4,"o":-1.4},{"t":"2019-09","g":-1.2,"f":-1.2,"o":-1.2},{"t":"2019-10","g":-0.5,"f":-0.5,"o":-0.5},{"t":"2019-11","g":0.3,"f":0.3,"o":0.3},{"t":"2019-12","g":1.0,"f":1.0,"o":1.0},
      {"t":"2020-01","g":1.6,"f":1.6,"o":1.5},{"t":"2020-02","g":1.4,"f":1.4,"o":1.3},{"t":"2020-03","g":0.8,"f":0.8,"o":0.8},{"t":"2020-04","g":0.1,"f":0.1,"o":0.1},{"t":"2020-05","g":-0.4,"f":-0.4,"o":-0.4},{"t":"2020-06","g":-0.8,"f":-0.8,"o":-0.8},{"t":"2020-07","g":-1.1,"f":-1.1,"o":-1.1},{"t":"2020-08","g":-1.3,"f":-1.3,"o":-1.3},{"t":"2020-09","g":-1.1,"f":-1.1,"o":-1.1},{"t":"2020-10","g":-0.4,"f":-0.4,"o":-0.4},{"t":"2020-11","g":0.5,"f":0.5,"o":0.5},{"t":"2020-12","g":1.3,"f":1.2,"o":1.2},
      {"t":"2021-01","g":2.1,"o":1.9},{"t":"2021-02","g":1.7,"o":1.4},{"t":"2021-03","g":0.6,"o":0.6},{"t":"2021-04","g":0.0,"o":0.0},{"t":"2021-05","g":0.0,"o":-0.4},{"t":"2021-06","g":-0.3,"o":-0.8},{"t":"2021-07","g":-0.9,"o":-1.1},{"t":"2021-08","g":-1.2,"o":-1.2},{"t":"2021-09","g":-1.1,"o":-1.1},{"t":"2021-10","g":-0.5,"o":-0.5},{"t":"2021-11","g":0.3,"o":0.3},{"t":"2021-12","g":1.0,"o":1.0},
      {"t":"2022-01","g":1.7,"o":1.7},{"t":"2022-02","g":1.4,"o":1.4},{"t":"2022-03","g":0.7,"o":0.7},{"t":"2022-04","g":0.0,"o":0.0},{"t":"2022-05","g":-0.5,"o":-0.5},{"t":"2022-06","g":-0.9,"o":-0.9},{"t":"2022-07","g":-1.1,"o":-1.1},{"t":"2022-08","g":-1.2,"o":-1.2},{"t":"2022-09","g":-1.0,"o":-1.0},{"t":"2022-10","g":-0.3,"o":-0.3},{"t":"2022-11","g":0.5},{"t":"2022-12","g":1.1},
      {"t":"2023-01","g":1.6},{"t":"2023-02","g":1.5},{"t":"2023-03","g":0.6},{"t":"2023-04","g":-0.1},{"t":"2023-05","g":-0.2},{"t":"2023-06","g":-0.3},{"t":"2023-07","g":-0.4},{"t":"2023-08","g":-0.9},{"t":"2023-09","g":-1.2},{"t":"2023-10","g":-1.0},{"t":"2023-11","g":-0.2},{"t":"2023-12","g":0.9}
    ],
    "F": [
      {"t":"2007-01","g":2.0,"f":1.9},{"t":"2007-02","g":1.5,"f":1.4},{"t":"2007-03","g":0.3,"f":0.3},{"t":"2007-04","g":-0.6,"f":-0.7},{"t":"2007-05","g":-1.1,"f":-1.2},{"t":"2007-06","g":-1.2,"f":-1.3},{"t":"2007-07","g":-0.9,"f":-0.9},{"t":"2007-08","g":-0.2,"f":-0.2},{"t":"2007-09","g":0.5,"f":0.4},{"t":"2007-10","g":1.2,"f":0.8},{"t":"2007-11","g":0.6,"f":0.5},{"t":"2007-12","g":0.9,"f":1.2},
      {"t":"2008-01","g":1.0,"f":1.3},{"t":"2008-02","g":0.4,"f":0.5},{"t":"2008-03","g":-0.4,"f":-0.4},{"t":"2008-04","g":-1.0,"f":-1.0},{"t":"2008-05","g":-1.2,"f":-1.2},{"t":"2008-06","g":-1.2,"f":-1.2},{"t":"2008-07","g":-1.0,"f":-1.0},{"t":"2008-08","g":-0.4,"f":-0.5},{"t":"2008-09","g":0.3,"f":0.0},{"t":"2008-10","g":0.6,"f":0.0},{"t":"2008-11","g":0.2,"f":0.4},{"t":"2008-12","g":0.5,"f":0.0},
      {"t":"2009-01","g":0.5,"f":0.4},{"t":"2009-02","g":0.6,"f":0.5},{"t":"2009-03","g":0.0,"f":0.0},{"t":"2009-04","g":-0.8,"f":-0.8},{"t":"2009-05","g":-1.2,"f":-1.3},{"t":"2009-06","g":-1.2,"f":-1.3},{"t":"2009-07","g":-0.8,"f":-0.9},{"t":"2009-08","g":-0.2,"f":-0.3},{"t":"2009-09","g":0.1,"f":0.1},{"t":"2009-10","g":0.3,"f":0.3},{"t":"2009-11","g":0.6,"f":0.6},{"t":"2009-12","g":1.3,"f":1.3},
      {"t":"2010-01","g":2.0,"f":2.0},{"t":"2010-02","g":1.6,"f":1.5},{"t":"2010-03","g":0.6,"f":0.5},{"t":"2010-04","g":-0.3,"f":-0.4},{"t":"2010-05","g":-1.0,"f":-1.0},{"t":"2010-06","g":-1.1,"f":-1.1},{"t":"2010-07","g":-1.0,"f":-1.0},{"t":"2010-08","g":-0.6,"f":-0.6},{"t":"2010-09","g":0.0,"f":0.0},{"t":"2010-10","g":0.5,"f":0.4},{"t":"2010-11","g":0.4,"f":0.3},{"t":"2010-12","g":0.9,"f":0.9},
      {"t":"2011-01","g":1.7,"f":1.8},{"t":"2011-02","g":1.2,"f":1.2},{"t":"2011-03","g":0.2,"f":0.2},{"t":"2011-04","g":-0.6,"f":-0.6},{"t":"2011-05","g":-1.1,"f":-1.1},{"t":"2011-06","g":-1.2,"f":-1.2},{"t":"2011-07","g":-1.0,"f":-1.0},{"t":"2011-08","g":-0.3,"f":-0.3},{"t":"2011-09","g":0.4,"f":0.3},{"t":"2011-10","g":0.7,"f":0.6},{"t":"2011-11","g":0.6,"f":0.5},{"t":"2011-12","g":1.0,"f":0.9},
      {"t":"2012-01","g":1.5,"f":1.1},{"t":"2012-02","g":1.0,"f":0.9},{"t":"2012-03","g":0.1,"f":0.1},{"t":"2012-04","g":-0.7,"f":-0.7},{"t":"2012-05","g":-1.2,"f":-1.2},{"t":"2012-06","g":-1.2,"f":-1.2},{"t":"2012-07","g":-0.9,"f":-0.9},{"t":"2012-08","g":-0.3,"f":-0.3},{"t":"2012-09","g":0.3,"f":0.3},{"t":"2012-10","g":0.6,"f":0.5},{"t":"2012-11","g":0.8,"f":0.7},{"t":"2012-12","g":1.2,"f":1.2},
      {"t":"2013-01","g":1.6,"f":1.8},{"t":"2013-02","g":1.2,"f":1.2},{"t":"2013-03","g":0.2,"f":0.2},{"t":"2013-04","g":-0.6,"f":-0.6},{"t":"2013-05","g":-1.1,"f":-1.1},{"t":"2013-06","g":-1.1,"f":-1.1},{"t":"2013-07","g":-0.8,"f":-0.8},{"t":"2013-08","g":-0.3,"f":-0.3},{"t":"2013-09","g":0.3,"f":0.2},{"t":"2013-10","g":0.6,"f":0.5},{"t":"2013-11","g":0.8,"f":0.7},{"t":"2013-12","g":1.2,"f":1.1},
      {"t":"2014-01","g":1.7,"f":1.8},{"t":"2014-02","g":1.0,"f":1.0},{"t":"2014-03","g":-0.1,"f":-0.1},{"t":"2014-04","g":-0.9,"f":-0.9},{"t":"2014-05","g":-1.3,"f":-1.2},{"t":"2014-06","g":-1.3,"f":-1.2},{"t":"2014-07","g":-1.0,"f":-1.0},{"t":"2014-08","g":-0.2,"f":-0.2},{"t":"2014-09","g":0.3,"f":0.3},{"t":"2014-10","g":0.5,"f":0.5},{"t":"2014-11","g":0.7,"f":0.7},{"t":"2014-12","g":1.3,"f":1.3},
      {"t":"2015-01","g":1.8,"f":1.9},{"t":"2015-02","g":1.8,"f":2.0},{"t":"2015-03","g":0.5,"f":0.6},{"t":"2015-04","g":-0.8,"f":-0.7},{"t":"2015-05","g":-1.3,"f":-1.2},{"t":"2015-06","g":-1.3,"f":-1.2},{"t":"2015-07","g":-1.0,"f":-1.0},{"t":"2015-08","g":-0.5,"f":-0.5},{"t":"2015-09","g":0.2,"f":0.2},{"t":"2015-10","g":0.5,"f":0.5},{"t":"2015-11","g":0.7,"f":0.7},{"t":"2015-12","g":1.2,"f":1.3},
      {"t":"2016-01","g":1.4,"f":1.6},{"t":"2016-02","g":1.0,"f":1.0},{"t":"2016-03","g":-0.2,"f":-0.2},{"t":"2016-04","g":-1.0,"f":-1.0},{"t":"2016-05","g":-1.4,"f":-1.3},{"t":"2016-06","g":-1.5,"f":-1.3},{"t":"2016-07","g":-1.0,"f":-1.0},{"t":"2016-08","g":-0.3,"f":-0.3},{"t":"2016-09","g":0.3,"f":0.3},{"t":"2016-10","g":0.6,"f":0.6},{"t":"2016-11","g":0.8,"f":0.8},{"t":"2016-12","g":1.3,"f":1.3},
      {"t":"2017-01","g":1.4,"f":1.5},{"t":"2017-02","g":0.8,"f":0.8},{"t":"2017-03","g":-0.4,"f":-0.3},{"t":"2017-04","g":-1.1,"f":-1.0},{"t":"2017-05","g":-1.2,"f":-1.2},{"t":"2017-06","g":-1.2,"f":-1.2},{"t":"2017-07","g":-0.9,"f":-0.9},{"t":"2017-08","g":-0.4,"f":-0.4},{"t":"2017-09","g":0.2,"f":0.2},{"t":"2017-10","g":0.5,"f":0.5},{"t":"2017-11","g":0.4,"f":0.4},{"t":"2017-12","g":0.9,"f":0.9},
      {"t":"2018-01","g":1.0,"f":1.0},{"t":"2018-02","g":0.2,"f":0.3},{"t":"2018-03","g":-0.6,"f":-0.5,"o":-0.5},{"t":"2018-04","g":-0.7,"f":-0.8,"o":-0.9},{"t":"2018-05","g":-0.8,"f":-1.0,"o":-1.1},{"t":"2018-06","g":-1.0,"f":-0.9,"o":-1.0},{"t":"2018-07","g":-0.8,"f":-0.8,"o":-0.8},{"t":"2018-08","g":-0.2,"f":-0.2,"o":-0.1},{"t":"2018-09","g":0.6,"f":0.5,"o":0.6},{"t":"2018-10","g":0.7,"f":0.7,"o":0.8},{"t":"2018-11","g":0.8,"f":0.8,"o":1.0},{"t":"2018-12","g":1.5,"f":1.5,"o":1.6},
      {"t":"2019-01","g":1.9,"f":2.0,"o":2.3},{"t":"2019-02","g":1.3,"f":1.3,"o":1.4},{"t":"2019-03","g":0.2,"f":0.2,"o":0.3},{"t":"2019-04","g":-0.7,"f":-0.7,"o":-0.6},{"t":"2019-05","g":-1.2,"f":-1.2,"o":-1.1},{"t":"2019-06","g":-1.3,"f":-1.3,"o":-1.2},{"t":"2019-07","g":-1.0,"f":-1.0,"o":-0.9},{"t":"2019-08","g":-0.4,"f":-0.4,"o":-0.3},{"t":"2019-09","g":0.2,"f":0.2,"o":0.3},{"t":"2019-10","g":0.5,"f":0.5,"o":0.6},{"t":"2019-11","g":0.6,"f":0.6,"o":0.7},{"t":"2019-12","g":1.3,"f":1.3,"o":1.3},
      {"t":"2020-01","g":1.7,"f":1.7,"o":1.7},{"t":"2020-02","g":0.7,"f":0.7,"o":0.8},{"t":"2020-03","g":-0.3,"f":-0.3,"o":-0.3},{"t":"2020-04","g":-1.0,"f":-1.0,"o":-1.0},{"t":"2020-05","g":-1.3,"f":-1.3,"o":-1.2},{"t":"2020-06","g":-1.3,"f":-1.3,"o":-1.2},{"t":"2020-07","g":-1.0,"f":-1.0,"o":-0.9},{"t":"2020-08","g":-0.5,"f":-0.5,"o":-0.4},{"t":"2020-09","g":0.0,"f":0.0,"o":0.1},{"t":"2020-10","g":0.3,"f":0.3,"o":0.3},{"t":"2020-11","g":0.3,"f":0.3,"o":0.3},{"t":"2020-12","g":0.9,"f":0.9,"o":1.0},
      {"t":"2021-01","g":1.5,"o":1.7},{"t":"2021-02","g":1.2,"o":1.0},{"t":"2021-03","g":0.2,"o":0.0},{"t":"2021-04","g":-0.6,"o":-0.8},{"t":"2021-05","g":-1.2,"o":-1.2},{"t":"2021-06","g":-1.1,"o":-1.1},{"t":"2021-07","g":-0.9,"o":-0.8},{"t":"2021-08","g":-0.2,"o":-0.1},{"t":"2021-09","g":0.6,"o":0.5},{"t":"2021-10","g":1.2,"o":0.9},{"t":"2021-11","g":0.4,"o":0.5},{"t":"2021-12","g":0.6,"o":0.8},
      {"t":"2022-01","g":0.9,"o":1.2},{"t":"2022-02","g":1.3,"o":1.3},{"t":"2022-03","g":0.0,"o":0.0},{"t":"2022-04","g":-0.4,"o":-0.7},{"t":"2022-05","g":-0.5,"o":-1.3},{"t":"2022-06","g":-0.6,"o":-1.6},{"t":"2022-07","g":-0.4,"o":-1.2},{"t":"2022-08","g":0.0,"o":-0.5},{"t":"2022-09","g":0.0,"o":-0.1},{"t":"2022-10","g":0.0,"o":0.0},{"t":"2022-11","g":0.0},{"t":"2022-12","g":0.4},
      {"t":"2023-01","g":0.9},{"t":"2023-02","g":0.5},{"t":"2023-03","g":-0.2},{"t":"2023-04","g":-0.9},{"t":"2023-05","g":-0.8},{"t":"2023-06","g":-0.8},{"t":"2023-07","g":-0.9},{"t":"2023-08","g":-0.5},{"t":"2023-09","g":0.0},{"t":"2023-10","g":0.3},{"t":"2023-11","g":0.3},{"t":"2023-12","g":0.8}
    ]
  },
  "vconcat": [
    {
      "width": 457, "height": 63,
      "layer": [
        {"data": {"name": "A"}, "transform": [{"filter": "isValid(datum.g)"}], "mark": {"type": "line", "strokeWidth": 1.6, "clip": true},
         "encoding": {"x": {"field": "t", "type": "temporal", "scale": {"domain": [{"year": 2006, "month": 2, "date": 20}, {"year": 2024, "month": 10, "date": 1}], "nice": false}, "axis": {"values": [{"year": 2008}, {"year": 2010}, {"year": 2012}, {"year": 2014}, {"year": 2016}, {"year": 2018}, {"year": 2020}, {"year": 2022}, {"year": 2024}], "labels": false, "title": null}},
          "y": {"field": "g", "type": "quantitative", "scale": {"domain": [-2.1, 3.85], "nice": false, "zero": false}, "axis": {"values": [0, 2.5], "format": ".1f", "title": "Standardised"}},
          "color": {"datum": "GOME-2 SIF", "scale": {"domain": ["GOME-2 SIF", "TROPOMI SIF", "FluxSat GPP"], "range": ["#6495ED", "#FF4500", "#000000"]}, "legend": {"orient": "top-left", "direction": "horizontal", "title": null, "symbolType": "stroke", "symbolSize": 420, "symbolStrokeWidth": 1.5, "labelFontSize": 8.7, "fillColor": "rgba(255,255,255,0.85)", "strokeColor": "#cccccc", "cornerRadius": 3, "padding": 4, "offset": 3, "columnPadding": 13, "labelOffset": 7}},
          "strokeDash": {"datum": "GOME-2 SIF", "scale": {"domain": ["GOME-2 SIF", "TROPOMI SIF", "FluxSat GPP"], "range": [[1, 0], [3.6, 1.8], [3.6, 1.8]]}, "legend": {"orient": "top-left", "direction": "horizontal", "title": null, "symbolType": "stroke", "symbolSize": 420, "symbolStrokeWidth": 1.5, "labelFontSize": 8.7, "fillColor": "rgba(255,255,255,0.85)", "strokeColor": "#cccccc", "cornerRadius": 3, "padding": 4, "offset": 3, "columnPadding": 13, "labelOffset": 7}}}},
        {"data": {"name": "A"}, "transform": [{"filter": "isValid(datum.o)"}], "mark": {"type": "line", "strokeWidth": 1.2, "clip": true},
         "encoding": {"x": {"field": "t", "type": "temporal", "scale": {"domain": [{"year": 2006, "month": 2, "date": 20}, {"year": 2024, "month": 10, "date": 1}], "nice": false}, "axis": {"values": [{"year": 2008}, {"year": 2010}, {"year": 2012}, {"year": 2014}, {"year": 2016}, {"year": 2018}, {"year": 2020}, {"year": 2022}, {"year": 2024}], "labels": false, "title": null}},
          "y": {"field": "o", "type": "quantitative", "scale": {"domain": [-2.1, 3.85], "nice": false, "zero": false}, "axis": {"values": [0, 2.5], "format": ".1f", "title": "Standardised"}},
          "color": {"datum": "TROPOMI SIF"}, "strokeDash": {"datum": "TROPOMI SIF"}}},
        {"data": {"name": "A"}, "transform": [{"filter": "isValid(datum.f)"}], "mark": {"type": "line", "strokeWidth": 1.2, "clip": true},
         "encoding": {"x": {"field": "t", "type": "temporal", "scale": {"domain": [{"year": 2006, "month": 2, "date": 20}, {"year": 2024, "month": 10, "date": 1}], "nice": false}, "axis": {"values": [{"year": 2008}, {"year": 2010}, {"year": 2012}, {"year": 2014}, {"year": 2016}, {"year": 2018}, {"year": 2020}, {"year": 2022}, {"year": 2024}], "labels": false, "title": null}},
          "y": {"field": "f", "type": "quantitative", "scale": {"domain": [-2.1, 3.85], "nice": false, "zero": false}, "axis": {"values": [0, 2.5], "format": ".1f", "title": "Standardised"}},
          "color": {"datum": "FluxSat GPP"}, "strokeDash": {"datum": "FluxSat GPP"}}},
        {"data": {"values": [{"k": "(a)", "n": "Eastern Europe"}]}, "mark": {"type": "text", "align": "left", "baseline": "alphabetic", "fontWeight": "bold"},
         "encoding": {"x": {"datum": {"year": 2006, "month": 2, "date": 20}, "type": "temporal"}, "y": {"datum": 4.45, "type": "quantitative"}, "text": {"field": "k"}}},
        {"data": {"values": [{"k": "(a)", "n": "Eastern Europe"}]}, "mark": {"type": "text", "align": "center", "baseline": "alphabetic"},
         "encoding": {"x": {"datum": {"year": 2015, "month": 6, "date": 11}, "type": "temporal"}, "y": {"datum": 4.45, "type": "quantitative"}, "text": {"field": "n"}}}
      ]
    },
    {
      "width": 457, "height": 63,
      "layer": [
        {"data": {"name": "B"}, "transform": [{"filter": "isValid(datum.g)"}], "mark": {"type": "line", "strokeWidth": 1.6, "clip": true},
         "encoding": {"x": {"field": "t", "type": "temporal", "scale": {"domain": [{"year": 2006, "month": 2, "date": 20}, {"year": 2024, "month": 10, "date": 1}], "nice": false}, "axis": {"values": [{"year": 2008}, {"year": 2010}, {"year": 2012}, {"year": 2014}, {"year": 2016}, {"year": 2018}, {"year": 2020}, {"year": 2022}, {"year": 2024}], "labels": false, "title": null}},
          "y": {"field": "g", "type": "quantitative", "scale": {"domain": [-2.1, 3.85], "nice": false, "zero": false}, "axis": {"values": [0, 2.5], "format": ".1f", "title": "Standardised"}},
          "color": {"datum": "GOME-2 SIF", "scale": {"domain": ["GOME-2 SIF", "TROPOMI SIF", "FluxSat GPP"], "range": ["#6495ED", "#FF4500", "#000000"]}, "legend": null},
          "strokeDash": {"datum": "GOME-2 SIF", "scale": {"domain": ["GOME-2 SIF", "TROPOMI SIF", "FluxSat GPP"], "range": [[1, 0], [3.6, 1.8], [3.6, 1.8]]}, "legend": null}}},
        {"data": {"name": "B"}, "transform": [{"filter": "isValid(datum.o)"}], "mark": {"type": "line", "strokeWidth": 1.2, "clip": true},
         "encoding": {"x": {"field": "t", "type": "temporal", "scale": {"domain": [{"year": 2006, "month": 2, "date": 20}, {"year": 2024, "month": 10, "date": 1}], "nice": false}, "axis": {"values": [{"year": 2008}, {"year": 2010}, {"year": 2012}, {"year": 2014}, {"year": 2016}, {"year": 2018}, {"year": 2020}, {"year": 2022}, {"year": 2024}], "labels": false, "title": null}},
          "y": {"field": "o", "type": "quantitative", "scale": {"domain": [-2.1, 3.85], "nice": false, "zero": false}, "axis": {"values": [0, 2.5], "format": ".1f", "title": "Standardised"}},
          "color": {"datum": "TROPOMI SIF", "legend": null}, "strokeDash": {"datum": "TROPOMI SIF", "legend": null}}},
        {"data": {"name": "B"}, "transform": [{"filter": "isValid(datum.f)"}], "mark": {"type": "line", "strokeWidth": 1.2, "clip": true},
         "encoding": {"x": {"field": "t", "type": "temporal", "scale": {"domain": [{"year": 2006, "month": 2, "date": 20}, {"year": 2024, "month": 10, "date": 1}], "nice": false}, "axis": {"values": [{"year": 2008}, {"year": 2010}, {"year": 2012}, {"year": 2014}, {"year": 2016}, {"year": 2018}, {"year": 2020}, {"year": 2022}, {"year": 2024}], "labels": false, "title": null}},
          "y": {"field": "f", "type": "quantitative", "scale": {"domain": [-2.1, 3.85], "nice": false, "zero": false}, "axis": {"values": [0, 2.5], "format": ".1f", "title": "Standardised"}},
          "color": {"datum": "FluxSat GPP", "legend": null}, "strokeDash": {"datum": "FluxSat GPP", "legend": null}}},
        {"data": {"values": [{"k": "(b)", "n": "Corn Belt, US"}]}, "mark": {"type": "text", "align": "left", "baseline": "alphabetic", "fontWeight": "bold"},
         "encoding": {"x": {"datum": {"year": 2006, "month": 2, "date": 20}, "type": "temporal"}, "y": {"datum": 4.45, "type": "quantitative"}, "text": {"field": "k"}}},
        {"data": {"values": [{"k": "(b)", "n": "Corn Belt, US"}]}, "mark": {"type": "text", "align": "center", "baseline": "alphabetic"},
         "encoding": {"x": {"datum": {"year": 2015, "month": 6, "date": 11}, "type": "temporal"}, "y": {"datum": 4.45, "type": "quantitative"}, "text": {"field": "n"}}}
      ]
    },
    {
      "width": 457, "height": 63,
      "layer": [
        {"data": {"name": "C"}, "transform": [{"filter": "isValid(datum.g)"}], "mark": {"type": "line", "strokeWidth": 1.6, "clip": true},
         "encoding": {"x": {"field": "t", "type": "temporal", "scale": {"domain": [{"year": 2006, "month": 2, "date": 20}, {"year": 2024, "month": 10, "date": 1}], "nice": false}, "axis": {"values": [{"year": 2008}, {"year": 2010}, {"year": 2012}, {"year": 2014}, {"year": 2016}, {"year": 2018}, {"year": 2020}, {"year": 2022}, {"year": 2024}], "labels": false, "title": null}},
          "y": {"field": "g", "type": "quantitative", "scale": {"domain": [-2.1, 3.85], "nice": false, "zero": false}, "axis": {"values": [0, 2.5], "format": ".1f", "title": "Standardised"}},
          "color": {"datum": "GOME-2 SIF", "scale": {"domain": ["GOME-2 SIF", "TROPOMI SIF", "FluxSat GPP"], "range": ["#6495ED", "#FF4500", "#000000"]}, "legend": null},
          "strokeDash": {"datum": "GOME-2 SIF", "scale": {"domain": ["GOME-2 SIF", "TROPOMI SIF", "FluxSat GPP"], "range": [[1, 0], [3.6, 1.8], [3.6, 1.8]]}, "legend": null}}},
        {"data": {"name": "C"}, "transform": [{"filter": "isValid(datum.o)"}], "mark": {"type": "line", "strokeWidth": 1.2, "clip": true},
         "encoding": {"x": {"field": "t", "type": "temporal", "scale": {"domain": [{"year": 2006, "month": 2, "date": 20}, {"year": 2024, "month": 10, "date": 1}], "nice": false}, "axis": {"values": [{"year": 2008}, {"year": 2010}, {"year": 2012}, {"year": 2014}, {"year": 2016}, {"year": 2018}, {"year": 2020}, {"year": 2022}, {"year": 2024}], "labels": false, "title": null}},
          "y": {"field": "o", "type": "quantitative", "scale": {"domain": [-2.1, 3.85], "nice": false, "zero": false}, "axis": {"values": [0, 2.5], "format": ".1f", "title": "Standardised"}},
          "color": {"datum": "TROPOMI SIF", "legend": null}, "strokeDash": {"datum": "TROPOMI SIF", "legend": null}}},
        {"data": {"name": "C"}, "transform": [{"filter": "isValid(datum.f)"}], "mark": {"type": "line", "strokeWidth": 1.2, "clip": true},
         "encoding": {"x": {"field": "t", "type": "temporal", "scale": {"domain": [{"year": 2006, "month": 2, "date": 20}, {"year": 2024, "month": 10, "date": 1}], "nice": false}, "axis": {"values": [{"year": 2008}, {"year": 2010}, {"year": 2012}, {"year": 2014}, {"year": 2016}, {"year": 2018}, {"year": 2020}, {"year": 2022}, {"year": 2024}], "labels": false, "title": null}},
          "y": {"field": "f", "type": "quantitative", "scale": {"domain": [-2.1, 3.85], "nice": false, "zero": false}, "axis": {"values": [0, 2.5], "format": ".1f", "title": "Standardised"}},
          "color": {"datum": "FluxSat GPP", "legend": null}, "strokeDash": {"datum": "FluxSat GPP", "legend": null}}},
        {"data": {"values": [{"k": "(c)", "n": "Eastern China", "c": "* Corrected from July 2013"}]}, "mark": {"type": "text", "align": "left", "baseline": "alphabetic", "fontWeight": "bold"},
         "encoding": {"x": {"datum": {"year": 2006, "month": 2, "date": 20}, "type": "temporal"}, "y": {"datum": 4.45, "type": "quantitative"}, "text": {"field": "k"}}},
        {"data": {"values": [{"k": "(c)", "n": "Eastern China", "c": "* Corrected from July 2013"}]}, "mark": {"type": "text", "align": "center", "baseline": "alphabetic"},
         "encoding": {"x": {"datum": {"year": 2015, "month": 6, "date": 11}, "type": "temporal"}, "y": {"datum": 4.45, "type": "quantitative"}, "text": {"field": "n"}}},
        {"data": {"values": [{"k": "(c)", "n": "Eastern China", "c": "* Corrected from July 2013"}]}, "mark": {"type": "text", "align": "left", "baseline": "alphabetic", "color": "#4a72e8"},
         "encoding": {"x": {"datum": {"year": 2007, "month": 1, "date": 1}, "type": "temporal"}, "y": {"datum": 2.65, "type": "quantitative"}, "text": {"field": "c"}}}
      ]
    },
    {
      "width": 457, "height": 63,
      "layer": [
        {"data": {"name": "D"}, "transform": [{"filter": "isValid(datum.g)"}], "mark": {"type": "line", "strokeWidth": 1.6, "clip": true},
         "encoding": {"x": {"field": "t", "type": "temporal", "scale": {"domain": [{"year": 2006, "month": 2, "date": 20}, {"year": 2024, "month": 10, "date": 1}], "nice": false}, "axis": {"values": [{"year": 2008}, {"year": 2010}, {"year": 2012}, {"year": 2014}, {"year": 2016}, {"year": 2018}, {"year": 2020}, {"year": 2022}, {"year": 2024}], "labels": false, "title": null}},
          "y": {"field": "g", "type": "quantitative", "scale": {"domain": [-2.1, 3.85], "nice": false, "zero": false}, "axis": {"values": [0, 2.5], "format": ".1f", "title": "Standardised"}},
          "color": {"datum": "GOME-2 SIF", "scale": {"domain": ["GOME-2 SIF", "TROPOMI SIF", "FluxSat GPP"], "range": ["#6495ED", "#FF4500", "#000000"]}, "legend": null},
          "strokeDash": {"datum": "GOME-2 SIF", "scale": {"domain": ["GOME-2 SIF", "TROPOMI SIF", "FluxSat GPP"], "range": [[1, 0], [3.6, 1.8], [3.6, 1.8]]}, "legend": null}}},
        {"data": {"name": "D"}, "transform": [{"filter": "isValid(datum.o)"}], "mark": {"type": "line", "strokeWidth": 1.2, "clip": true},
         "encoding": {"x": {"field": "t", "type": "temporal", "scale": {"domain": [{"year": 2006, "month": 2, "date": 20}, {"year": 2024, "month": 10, "date": 1}], "nice": false}, "axis": {"values": [{"year": 2008}, {"year": 2010}, {"year": 2012}, {"year": 2014}, {"year": 2016}, {"year": 2018}, {"year": 2020}, {"year": 2022}, {"year": 2024}], "labels": false, "title": null}},
          "y": {"field": "o", "type": "quantitative", "scale": {"domain": [-2.1, 3.85], "nice": false, "zero": false}, "axis": {"values": [0, 2.5], "format": ".1f", "title": "Standardised"}},
          "color": {"datum": "TROPOMI SIF", "legend": null}, "strokeDash": {"datum": "TROPOMI SIF", "legend": null}}},
        {"data": {"name": "D"}, "transform": [{"filter": "isValid(datum.f)"}], "mark": {"type": "line", "strokeWidth": 1.2, "clip": true},
         "encoding": {"x": {"field": "t", "type": "temporal", "scale": {"domain": [{"year": 2006, "month": 2, "date": 20}, {"year": 2024, "month": 10, "date": 1}], "nice": false}, "axis": {"values": [{"year": 2008}, {"year": 2010}, {"year": 2012}, {"year": 2014}, {"year": 2016}, {"year": 2018}, {"year": 2020}, {"year": 2022}, {"year": 2024}], "labels": false, "title": null}},
          "y": {"field": "f", "type": "quantitative", "scale": {"domain": [-2.1, 3.85], "nice": false, "zero": false}, "axis": {"values": [0, 2.5], "format": ".1f", "title": "Standardised"}},
          "color": {"datum": "FluxSat GPP", "legend": null}, "strokeDash": {"datum": "FluxSat GPP", "legend": null}}},
        {"data": {"values": [{"k": "(d)", "n": "Amazon", "c": "* Corrected from July 2013"}]}, "mark": {"type": "text", "align": "left", "baseline": "alphabetic", "fontWeight": "bold"},
         "encoding": {"x": {"datum": {"year": 2006, "month": 2, "date": 20}, "type": "temporal"}, "y": {"datum": 4.45, "type": "quantitative"}, "text": {"field": "k"}}},
        {"data": {"values": [{"k": "(d)", "n": "Amazon", "c": "* Corrected from July 2013"}]}, "mark": {"type": "text", "align": "center", "baseline": "alphabetic"},
         "encoding": {"x": {"datum": {"year": 2015, "month": 6, "date": 11}, "type": "temporal"}, "y": {"datum": 4.45, "type": "quantitative"}, "text": {"field": "n"}}},
        {"data": {"values": [{"k": "(d)", "n": "Amazon", "c": "* Corrected from July 2013"}]}, "mark": {"type": "text", "align": "left", "baseline": "alphabetic", "color": "#4a72e8"},
         "encoding": {"x": {"datum": {"year": 2007, "month": 1, "date": 1}, "type": "temporal"}, "y": {"datum": 2.65, "type": "quantitative"}, "text": {"field": "c"}}}
      ]
    },
    {
      "width": 457, "height": 63,
      "layer": [
        {"data": {"name": "E"}, "transform": [{"filter": "isValid(datum.g)"}], "mark": {"type": "line", "strokeWidth": 1.6, "clip": true},
         "encoding": {"x": {"field": "t", "type": "temporal", "scale": {"domain": [{"year": 2006, "month": 2, "date": 20}, {"year": 2024, "month": 10, "date": 1}], "nice": false}, "axis": {"values": [{"year": 2008}, {"year": 2010}, {"year": 2012}, {"year": 2014}, {"year": 2016}, {"year": 2018}, {"year": 2020}, {"year": 2022}, {"year": 2024}], "labels": false, "title": null}},
          "y": {"field": "g", "type": "quantitative", "scale": {"domain": [-2.1, 3.85], "nice": false, "zero": false}, "axis": {"values": [0, 2.5], "format": ".1f", "title": "Standardised"}},
          "color": {"datum": "GOME-2 SIF", "scale": {"domain": ["GOME-2 SIF", "TROPOMI SIF", "FluxSat GPP"], "range": ["#6495ED", "#FF4500", "#000000"]}, "legend": null},
          "strokeDash": {"datum": "GOME-2 SIF", "scale": {"domain": ["GOME-2 SIF", "TROPOMI SIF", "FluxSat GPP"], "range": [[1, 0], [3.6, 1.8], [3.6, 1.8]]}, "legend": null}}},
        {"data": {"name": "E"}, "transform": [{"filter": "isValid(datum.o)"}], "mark": {"type": "line", "strokeWidth": 1.2, "clip": true},
         "encoding": {"x": {"field": "t", "type": "temporal", "scale": {"domain": [{"year": 2006, "month": 2, "date": 20}, {"year": 2024, "month": 10, "date": 1}], "nice": false}, "axis": {"values": [{"year": 2008}, {"year": 2010}, {"year": 2012}, {"year": 2014}, {"year": 2016}, {"year": 2018}, {"year": 2020}, {"year": 2022}, {"year": 2024}], "labels": false, "title": null}},
          "y": {"field": "o", "type": "quantitative", "scale": {"domain": [-2.1, 3.85], "nice": false, "zero": false}, "axis": {"values": [0, 2.5], "format": ".1f", "title": "Standardised"}},
          "color": {"datum": "TROPOMI SIF", "legend": null}, "strokeDash": {"datum": "TROPOMI SIF", "legend": null}}},
        {"data": {"name": "E"}, "transform": [{"filter": "isValid(datum.f)"}], "mark": {"type": "line", "strokeWidth": 1.2, "clip": true},
         "encoding": {"x": {"field": "t", "type": "temporal", "scale": {"domain": [{"year": 2006, "month": 2, "date": 20}, {"year": 2024, "month": 10, "date": 1}], "nice": false}, "axis": {"values": [{"year": 2008}, {"year": 2010}, {"year": 2012}, {"year": 2014}, {"year": 2016}, {"year": 2018}, {"year": 2020}, {"year": 2022}, {"year": 2024}], "labels": false, "title": null}},
          "y": {"field": "f", "type": "quantitative", "scale": {"domain": [-2.1, 3.85], "nice": false, "zero": false}, "axis": {"values": [0, 2.5], "format": ".1f", "title": "Standardised"}},
          "color": {"datum": "FluxSat GPP", "legend": null}, "strokeDash": {"datum": "FluxSat GPP", "legend": null}}},
        {"data": {"values": [{"k": "(e)", "n": "Zambia"}]}, "mark": {"type": "text", "align": "left", "baseline": "alphabetic", "fontWeight": "bold"},
         "encoding": {"x": {"datum": {"year": 2006, "month": 2, "date": 20}, "type": "temporal"}, "y": {"datum": 4.45, "type": "quantitative"}, "text": {"field": "k"}}},
        {"data": {"values": [{"k": "(e)", "n": "Zambia"}]}, "mark": {"type": "text", "align": "center", "baseline": "alphabetic"},
         "encoding": {"x": {"datum": {"year": 2015, "month": 6, "date": 11}, "type": "temporal"}, "y": {"datum": 4.45, "type": "quantitative"}, "text": {"field": "n"}}}
      ]
    },
    {
      "width": 457, "height": 63,
      "layer": [
        {"data": {"name": "F"}, "transform": [{"filter": "isValid(datum.g)"}], "mark": {"type": "line", "strokeWidth": 1.6, "clip": true},
         "encoding": {"x": {"field": "t", "type": "temporal", "scale": {"domain": [{"year": 2006, "month": 2, "date": 20}, {"year": 2024, "month": 10, "date": 1}], "nice": false}, "axis": {"values": [{"year": 2008}, {"year": 2010}, {"year": 2012}, {"year": 2014}, {"year": 2016}, {"year": 2018}, {"year": 2020}, {"year": 2022}, {"year": 2024}], "format": "%Y", "labelPadding": 2.5, "title": null}},
          "y": {"field": "g", "type": "quantitative", "scale": {"domain": [-2.1, 3.85], "nice": false, "zero": false}, "axis": {"values": [0, 2.5], "format": ".1f", "title": "Standardised"}},
          "color": {"datum": "GOME-2 SIF", "scale": {"domain": ["GOME-2 SIF", "TROPOMI SIF", "FluxSat GPP"], "range": ["#6495ED", "#FF4500", "#000000"]}, "legend": null},
          "strokeDash": {"datum": "GOME-2 SIF", "scale": {"domain": ["GOME-2 SIF", "TROPOMI SIF", "FluxSat GPP"], "range": [[1, 0], [3.6, 1.8], [3.6, 1.8]]}, "legend": null}}},
        {"data": {"name": "F"}, "transform": [{"filter": "isValid(datum.o)"}], "mark": {"type": "line", "strokeWidth": 1.2, "clip": true},
         "encoding": {"x": {"field": "t", "type": "temporal", "scale": {"domain": [{"year": 2006, "month": 2, "date": 20}, {"year": 2024, "month": 10, "date": 1}], "nice": false}, "axis": {"values": [{"year": 2008}, {"year": 2010}, {"year": 2012}, {"year": 2014}, {"year": 2016}, {"year": 2018}, {"year": 2020}, {"year": 2022}, {"year": 2024}], "format": "%Y", "labelPadding": 2.5, "title": null}},
          "y": {"field": "o", "type": "quantitative", "scale": {"domain": [-2.1, 3.85], "nice": false, "zero": false}, "axis": {"values": [0, 2.5], "format": ".1f", "title": "Standardised"}},
          "color": {"datum": "TROPOMI SIF", "legend": null}, "strokeDash": {"datum": "TROPOMI SIF", "legend": null}}},
        {"data": {"name": "F"}, "transform": [{"filter": "isValid(datum.f)"}], "mark": {"type": "line", "strokeWidth": 1.2, "clip": true},
         "encoding": {"x": {"field": "t", "type": "temporal", "scale": {"domain": [{"year": 2006, "month": 2, "date": 20}, {"year": 2024, "month": 10, "date": 1}], "nice": false}, "axis": {"values": [{"year": 2008}, {"year": 2010}, {"year": 2012}, {"year": 2014}, {"year": 2016}, {"year": 2018}, {"year": 2020}, {"year": 2022}, {"year": 2024}], "format": "%Y", "labelPadding": 2.5, "title": null}},
          "y": {"field": "f", "type": "quantitative", "scale": {"domain": [-2.1, 3.85], "nice": false, "zero": false}, "axis": {"values": [0, 2.5], "format": ".1f", "title": "Standardised"}},
          "color": {"datum": "FluxSat GPP", "legend": null}, "strokeDash": {"datum": "FluxSat GPP", "legend": null}}},
        {"data": {"values": [{"k": "(f)", "n": "Pampas"}]}, "mark": {"type": "text", "align": "left", "baseline": "alphabetic", "fontWeight": "bold"},
         "encoding": {"x": {"datum": {"year": 2006, "month": 2, "date": 20}, "type": "temporal"}, "y": {"datum": 4.45, "type": "quantitative"}, "text": {"field": "k"}}},
        {"data": {"values": [{"k": "(f)", "n": "Pampas"}]}, "mark": {"type": "text", "align": "center", "baseline": "alphabetic"},
         "encoding": {"x": {"datum": {"year": 2015, "month": 6, "date": 11}, "type": "temporal"}, "y": {"datum": 4.45, "type": "quantitative"}, "text": {"field": "n"}}}
      ]
    }
  ]
}
